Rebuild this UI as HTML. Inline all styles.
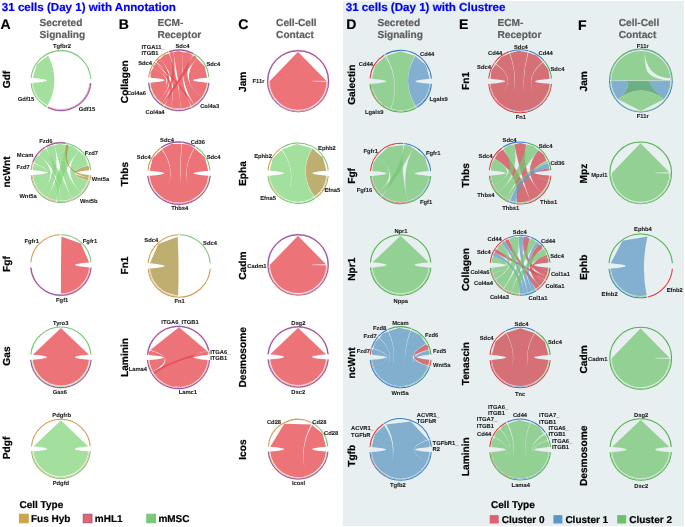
<!DOCTYPE html>
<html><head><meta charset="utf-8"><title>Chord diagrams</title>
<style>html,body{margin:0;padding:0;background:#fff;}body{width:685px;height:527px;overflow:hidden;font-family:"Liberation Sans",sans-serif;}svg{display:block;will-change:transform;}</style>
</head><body>
<svg width="685" height="527" viewBox="0 0 685 527" font-family="Liberation Sans, sans-serif" text-rendering="geometricPrecision"><rect x="0" y="0" width="685" height="527" fill="#fff"/>
<rect x="343" y="1" width="341" height="525" fill="#E8EFF1"/>
<text x="1.8" y="10.9" font-size="11.6" text-anchor="start" font-weight="bold" fill="#0000ff" stroke="#0000ff" stroke-width="0.2">31 cells (Day 1) with Annotation</text>
<text x="345.7" y="10.9" font-size="11.6" text-anchor="start" font-weight="bold" fill="#0000ff" stroke="#0000ff" stroke-width="0.2">31 cells (Day 1) with Clustree</text>
<text x="0.5" y="28.7" font-size="14" text-anchor="start" font-weight="bold" fill="#000" stroke="#000" stroke-width="0.2">A</text>
<text x="39.6" y="25.5" font-size="10.15" text-anchor="start" font-weight="bold" fill="#5E5E5E" stroke="#5E5E5E" stroke-width="0.2">Secreted</text>
<text x="39.6" y="37.5" font-size="10.15" text-anchor="start" font-weight="bold" fill="#5E5E5E" stroke="#5E5E5E" stroke-width="0.2">Signaling</text>
<text x="118.8" y="28.7" font-size="14" text-anchor="start" font-weight="bold" fill="#000" stroke="#000" stroke-width="0.2">B</text>
<text x="157.4" y="25.5" font-size="10.15" text-anchor="start" font-weight="bold" fill="#5E5E5E" stroke="#5E5E5E" stroke-width="0.2">ECM-</text>
<text x="157.4" y="37.5" font-size="10.15" text-anchor="start" font-weight="bold" fill="#5E5E5E" stroke="#5E5E5E" stroke-width="0.2">Receptor</text>
<text x="238.2" y="28.7" font-size="14" text-anchor="start" font-weight="bold" fill="#000" stroke="#000" stroke-width="0.2">C</text>
<text x="276.1" y="25.5" font-size="10.15" text-anchor="start" font-weight="bold" fill="#5E5E5E" stroke="#5E5E5E" stroke-width="0.2">Cell-Cell</text>
<text x="276.1" y="37.5" font-size="10.15" text-anchor="start" font-weight="bold" fill="#5E5E5E" stroke="#5E5E5E" stroke-width="0.2">Contact</text>
<text x="346.2" y="28.7" font-size="14" text-anchor="start" font-weight="bold" fill="#000" stroke="#000" stroke-width="0.2">D</text>
<text x="377.4" y="25.5" font-size="10.15" text-anchor="start" font-weight="bold" fill="#5E5E5E" stroke="#5E5E5E" stroke-width="0.2">Secreted</text>
<text x="377.4" y="37.5" font-size="10.15" text-anchor="start" font-weight="bold" fill="#5E5E5E" stroke="#5E5E5E" stroke-width="0.2">Signaling</text>
<text x="459" y="28.7" font-size="14" text-anchor="start" font-weight="bold" fill="#000" stroke="#000" stroke-width="0.2">E</text>
<text x="497.5" y="25.5" font-size="10.15" text-anchor="start" font-weight="bold" fill="#5E5E5E" stroke="#5E5E5E" stroke-width="0.2">ECM-</text>
<text x="497.5" y="37.5" font-size="10.15" text-anchor="start" font-weight="bold" fill="#5E5E5E" stroke="#5E5E5E" stroke-width="0.2">Receptor</text>
<text x="578" y="29.6" font-size="14" text-anchor="start" font-weight="bold" fill="#000" stroke="#000" stroke-width="0.2">F</text>
<text x="618.7" y="25.5" font-size="10.15" text-anchor="start" font-weight="bold" fill="#5E5E5E" stroke="#5E5E5E" stroke-width="0.2">Cell-Cell</text>
<text x="618.7" y="37.5" font-size="10.15" text-anchor="start" font-weight="bold" fill="#5E5E5E" stroke="#5E5E5E" stroke-width="0.2">Contact</text>
<path d="M31.11 77.94 A29.9 29.9 0 0 1 90.76 78.99" stroke="#76C973" stroke-width="1.05" fill="none"/>
<path d="M46.86 106.95 A29.9 29.9 0 0 1 31.11 83.16" stroke="#76C973" stroke-width="1.05" fill="none"/>
<path d="M90.69 83.16 A29.9 29.9 0 0 1 47.79 107.42" stroke="#E8A4BC" stroke-width="1.75" fill="none"/>
<path d="M90.69 83.16 A29.9 29.9 0 0 1 47.79 107.42" stroke="#7448A4" stroke-width="0.85" fill="none"/>
<path d="M47.29 106.16 A29 29 0 0 1 32.01 83.08" stroke="#B8E6B2" stroke-width="0.95" fill="none"/>
<path d="M89.79 83.08 A29 29 0 0 1 48.19 106.62" stroke="#F0A6AA" stroke-width="0.95" fill="none"/>
<path d="M47.71 105.36 A28.1 28.1 0 0 1 32.91 83 Q60.9 80.55 32.91 78.1 L36.86 64.33 L48.14 55.51 Q60.9 80.55 47.71 105.36 Z" fill="#84D47C" fill-opacity="0.75"/>
<text x="62" y="48.3" font-size="5.8" text-anchor="middle" font-weight="bold" fill="#1a1a1a" stroke="#1a1a1a" stroke-width="0.08">Tgfbr2</text>
<text x="34.3" y="101.3" font-size="5.8" text-anchor="end" font-weight="bold" fill="#1a1a1a" stroke="#1a1a1a" stroke-width="0.08">Gdf15</text>
<text x="78.7" y="110.5" font-size="5.8" text-anchor="start" font-weight="bold" fill="#1a1a1a" stroke="#1a1a1a" stroke-width="0.08">Gdf15</text>
<text x="9.9" y="79.5" font-size="10.2" text-anchor="middle" font-weight="bold" fill="#000" stroke="#000" stroke-width="0.2" transform="rotate(-90 9.9 79.5)">Gdf</text>
<path d="M31.11 170.04 A29.9 29.9 0 0 1 32.63 162.92" stroke="#D49A4C" stroke-width="1.05" fill="none"/>
<path d="M32.8 162.42 A29.9 29.9 0 0 1 45.06 147.29" stroke="#E8A4BC" stroke-width="1.75" fill="none"/>
<path d="M32.8 162.42 A29.9 29.9 0 0 1 45.06 147.29" stroke="#7448A4" stroke-width="0.85" fill="none"/>
<path d="M45.5 147.02 A29.9 29.9 0 0 1 65.58 143.12" stroke="#E8A4BC" stroke-width="1.75" fill="none"/>
<path d="M45.5 147.02 A29.9 29.9 0 0 1 65.58 143.12" stroke="#7448A4" stroke-width="0.85" fill="none"/>
<path d="M66.09 143.2 A29.9 29.9 0 0 1 90.69 170.04" stroke="#76C973" stroke-width="1.05" fill="none"/>
<path d="M90.69 175.26 A29.9 29.9 0 0 1 89.64 180.89" stroke="#D49A4C" stroke-width="1.05" fill="none"/>
<path d="M89.49 181.39 A29.9 29.9 0 0 1 56.74 202.26" stroke="#76C973" stroke-width="1.05" fill="none"/>
<path d="M56.22 202.18 A29.9 29.9 0 0 1 31.11 175.26" stroke="#76C973" stroke-width="1.05" fill="none"/>
<path d="M89.79 175.18 A29 29 0 0 1 88.78 180.64" stroke="#B8E6B2" stroke-width="0.95" fill="none"/>
<path d="M88.63 181.13 A29 29 0 0 1 56.86 201.37" stroke="#F0A6AA" stroke-width="0.95" fill="none"/>
<path d="M56.36 201.29 A29 29 0 0 1 32.01 175.18" stroke="#F0A6AA" stroke-width="0.95" fill="none"/>
<path d="M60.38 200.75 A28.1 28.1 0 0 1 56.99 200.48 Q60.9 172.65 33.86 165.01 L33.22 163.99 L34.33 163.5 Q60.9 172.65 60.38 200.75 Z" fill="#84D47C" fill-opacity="0.75"/>
<path d="M71.47 198.69 A28.1 28.1 0 0 1 60.38 200.75 Q60.9 172.65 39.06 154.97 L41.68 150.93 L46.01 148.82 Q60.9 172.65 71.47 198.69 Z" fill="#84D47C" fill-opacity="0.75"/>
<path d="M80.85 192.44 A28.1 28.1 0 0 1 71.47 198.69 Q60.9 172.65 54.47 145.29 L59.83 143.67 L65.3 144.9 Q60.9 172.65 80.85 192.44 Z" fill="#84D47C" fill-opacity="0.75"/>
<path d="M87.77 180.87 A28.1 28.1 0 0 1 80.85 192.44 Q60.9 172.65 78.62 150.84 L85.1 156.66 L87.91 164.9 Q60.9 172.65 87.77 180.87 Z" fill="#84D47C" fill-opacity="0.75"/>
<path d="M35.43 184.53 A28.1 28.1 0 0 1 32.91 175.1 Q60.9 172.65 32.91 170.2 L32.38 167.42 L33.86 165.01 Q60.9 172.65 35.43 184.53 Z" fill="#84D47C" fill-opacity="0.75"/>
<path d="M41.03 192.52 A28.1 28.1 0 0 1 35.43 184.53 Q60.9 172.65 34.49 163.04 L35.66 158.37 L39.06 154.97 Q60.9 172.65 41.03 192.52 Z" fill="#84D47C" fill-opacity="0.75"/>
<path d="M47.28 197.23 A28.1 28.1 0 0 1 41.03 192.52 Q60.9 172.65 46.43 148.56 L49.98 145.78 L54.47 145.29 Q60.9 172.65 47.28 197.23 Z" fill="#84D47C" fill-opacity="0.75"/>
<path d="M56.5 200.4 A28.1 28.1 0 0 1 47.28 197.23 Q60.9 172.65 65.78 144.98 L72.95 146.27 L78.62 150.84 Q60.9 172.65 56.5 200.4 Z" fill="#84D47C" fill-opacity="0.75"/>
<path d="M88.89 175.1 A28.1 28.1 0 0 1 88.57 177.53 Q60.9 172.65 65.78 144.98 L67.42 144.39 L68.65 145.64 Q60.9 172.65 88.89 175.1 Z" fill="#A89440" fill-opacity="0.75"/>
<path d="M88.57 177.53 A28.1 28.1 0 0 1 87.91 180.4 Q60.9 172.65 88.04 165.38 L89.46 167.61 L88.89 170.2 Q60.9 172.65 88.57 177.53 Z" fill="#A89440" fill-opacity="0.75"/>
<text x="45.8" y="143.3" font-size="5.8" text-anchor="middle" font-weight="bold" fill="#1a1a1a" stroke="#1a1a1a" stroke-width="0.08">Fzd6</text>
<text x="84.8" y="154.5" font-size="5.8" text-anchor="start" font-weight="bold" fill="#1a1a1a" stroke="#1a1a1a" stroke-width="0.08">Fzd7</text>
<text x="33.3" y="157" font-size="5.8" text-anchor="end" font-weight="bold" fill="#1a1a1a" stroke="#1a1a1a" stroke-width="0.08">Mcam</text>
<text x="29.8" y="168.5" font-size="5.8" text-anchor="end" font-weight="bold" fill="#1a1a1a" stroke="#1a1a1a" stroke-width="0.08">Fzd7</text>
<text x="91.8" y="180.8" font-size="5.8" text-anchor="start" font-weight="bold" fill="#1a1a1a" stroke="#1a1a1a" stroke-width="0.08">Wnt5a</text>
<text x="36.8" y="197.6" font-size="5.8" text-anchor="end" font-weight="bold" fill="#1a1a1a" stroke="#1a1a1a" stroke-width="0.08">Wnt5a</text>
<text x="79.9" y="202.9" font-size="5.8" text-anchor="start" font-weight="bold" fill="#1a1a1a" stroke="#1a1a1a" stroke-width="0.08">Wnt5b</text>
<text x="9.9" y="171.9" font-size="10.2" text-anchor="middle" font-weight="bold" fill="#000" stroke="#000" stroke-width="0.2" transform="rotate(-90 9.9 171.9)">ncWnt</text>
<path d="M30.81 262.37 A30.2 30.2 0 0 1 60.37 234.8" stroke="#D49A4C" stroke-width="1.05" fill="none"/>
<path d="M61.43 234.8 A30.2 30.2 0 0 1 90.99 262.37" stroke="#76C973" stroke-width="1.05" fill="none"/>
<path d="M90.99 267.63 A30.2 30.2 0 0 1 30.81 267.63" stroke="#E8A4BC" stroke-width="1.75" fill="none"/>
<path d="M90.99 267.63 A30.2 30.2 0 0 1 30.81 267.63" stroke="#7448A4" stroke-width="0.85" fill="none"/>
<path d="M90.09 267.55 A29.3 29.3 0 0 1 60.9 294.3" stroke="#F0A6AA" stroke-width="0.95" fill="none"/>
<path d="M89.19 267.48 A28.4 28.4 0 0 1 60.9 293.4 Q60.9 265 61.4 236.6 L80.88 243.57 L89.19 262.52 Q60.9 265 89.19 267.48 Z" fill="#E6464C" fill-opacity="0.75"/>
<text x="38.9" y="242.9" font-size="5.8" text-anchor="end" font-weight="bold" fill="#1a1a1a" stroke="#1a1a1a" stroke-width="0.08">Fgfr1</text>
<text x="82.8" y="242.9" font-size="5.8" text-anchor="start" font-weight="bold" fill="#1a1a1a" stroke="#1a1a1a" stroke-width="0.08">Fgfr1</text>
<text x="62.2" y="301.9" font-size="5.8" text-anchor="middle" font-weight="bold" fill="#1a1a1a" stroke="#1a1a1a" stroke-width="0.08">Fgf1</text>
<text x="9.9" y="264" font-size="10.2" text-anchor="middle" font-weight="bold" fill="#000" stroke="#000" stroke-width="0.2" transform="rotate(-90 9.9 264)">Fgf</text>
<path d="M30.81 354.67 A30.2 30.2 0 0 1 90.99 354.67" stroke="#76C973" stroke-width="1.05" fill="none"/>
<path d="M90.99 359.93 A30.2 30.2 0 0 1 30.81 359.93" stroke="#E8A4BC" stroke-width="1.75" fill="none"/>
<path d="M90.99 359.93 A30.2 30.2 0 0 1 30.81 359.93" stroke="#7448A4" stroke-width="0.85" fill="none"/>
<path d="M90.09 359.85 A29.3 29.3 0 0 1 31.71 359.85" stroke="#B8E6B2" stroke-width="0.95" fill="none"/>
<path d="M89.19 359.78 A28.4 28.4 0 0 1 32.61 359.78 Q60.9 357.3 32.61 354.82 L60.9 328 L89.19 354.82 Q60.9 357.3 89.19 359.78 Z" fill="#EC7479" stroke="#fff" stroke-width="0.35" stroke-opacity="0.6"/>
<text x="60.7" y="324.9" font-size="5.8" text-anchor="middle" font-weight="bold" fill="#1a1a1a" stroke="#1a1a1a" stroke-width="0.08">Tyro3</text>
<text x="59.9" y="393.9" font-size="5.8" text-anchor="middle" font-weight="bold" fill="#1a1a1a" stroke="#1a1a1a" stroke-width="0.08">Gas6</text>
<text x="9.9" y="356" font-size="10.2" text-anchor="middle" font-weight="bold" fill="#000" stroke="#000" stroke-width="0.2" transform="rotate(-90 9.9 356)">Gas</text>
<path d="M31.51 446.28 A29.5 29.5 0 0 1 90.29 446.28" stroke="#D49A4C" stroke-width="1.05" fill="none"/>
<path d="M90.29 451.42 A29.5 29.5 0 0 1 31.51 451.42" stroke="#76C973" stroke-width="1.05" fill="none"/>
<path d="M89.39 451.34 A28.6 28.6 0 0 1 32.41 451.34" stroke="#EAC096" stroke-width="0.95" fill="none"/>
<path d="M88.49 451.26 A27.7 27.7 0 0 1 33.31 451.26 Q60.9 448.85 33.31 446.44 L60.9 420.25 L88.49 446.44 Q60.9 448.85 88.49 451.26 Z" fill="#A3DF9D" stroke="#fff" stroke-width="0.35" stroke-opacity="0.6"/>
<text x="61.7" y="416.6" font-size="5.8" text-anchor="middle" font-weight="bold" fill="#1a1a1a" stroke="#1a1a1a" stroke-width="0.08">Pdgfrb</text>
<text x="60.9" y="485.3" font-size="5.8" text-anchor="middle" font-weight="bold" fill="#1a1a1a" stroke="#1a1a1a" stroke-width="0.08">Pdgfd</text>
<text x="9.9" y="448" font-size="10.2" text-anchor="middle" font-weight="bold" fill="#000" stroke="#000" stroke-width="0.2" transform="rotate(-90 9.9 448)">Pdgf</text>
<path d="M148.71 77.57 A30.2 30.2 0 0 1 155 61.61" stroke="#D49A4C" stroke-width="1.05" fill="none"/>
<path d="M155.33 61.19 A30.2 30.2 0 0 1 168.47 51.82" stroke="#D49A4C" stroke-width="1.05" fill="none"/>
<path d="M168.97 51.65 A30.2 30.2 0 0 1 193.44 53.79" stroke="#E8A4BC" stroke-width="1.75" fill="none"/>
<path d="M168.97 51.65 A30.2 30.2 0 0 1 193.44 53.79" stroke="#7448A4" stroke-width="0.85" fill="none"/>
<path d="M193.9 54.05 A30.2 30.2 0 0 1 208.89 77.57" stroke="#76C973" stroke-width="1.05" fill="none"/>
<path d="M208.89 82.83 A30.2 30.2 0 0 1 192.04 107.34" stroke="#E8A4BC" stroke-width="1.75" fill="none"/>
<path d="M208.89 82.83 A30.2 30.2 0 0 1 192.04 107.34" stroke="#7448A4" stroke-width="0.85" fill="none"/>
<path d="M191.56 107.57 A30.2 30.2 0 0 1 164.16 106.61" stroke="#E8A4BC" stroke-width="1.75" fill="none"/>
<path d="M191.56 107.57 A30.2 30.2 0 0 1 164.16 106.61" stroke="#7448A4" stroke-width="0.85" fill="none"/>
<path d="M163.7 106.35 A30.2 30.2 0 0 1 148.71 82.83" stroke="#E8A4BC" stroke-width="1.75" fill="none"/>
<path d="M163.7 106.35 A30.2 30.2 0 0 1 148.71 82.83" stroke="#7448A4" stroke-width="0.85" fill="none"/>
<path d="M207.99 82.75 A29.3 29.3 0 0 1 191.64 106.53" stroke="#B8E6B2" stroke-width="0.95" fill="none"/>
<path d="M191.18 106.75 A29.3 29.3 0 0 1 164.6 105.83" stroke="#EAC096" stroke-width="0.95" fill="none"/>
<path d="M164.15 105.57 A29.3 29.3 0 0 1 149.61 82.75" stroke="#B8E6B2" stroke-width="0.95" fill="none"/>
<path d="M193.98 104.2 A28.4 28.4 0 0 1 191.25 105.73 Q178.8 80.2 155.22 64.37 L155.08 63 L156.42 62.72 Q178.8 80.2 193.98 104.2 Z" fill="#E6464C" fill-opacity="0.75"/>
<path d="M201.6 97.14 A28.4 28.4 0 0 1 193.98 104.2 Q178.8 80.2 183.24 52.15 L188.34 52.5 L192.57 55.36 Q178.8 80.2 201.6 97.14 Z" fill="#E6464C" fill-opacity="0.75"/>
<path d="M207.09 82.68 A28.4 28.4 0 0 1 201.6 97.14 Q178.8 80.2 196.74 58.18 L204.69 66.48 L207.09 77.72 Q178.8 80.2 207.09 82.68 Z" fill="#E6464C" fill-opacity="0.75"/>
<path d="M170.72 107.43 A28.4 28.4 0 0 1 165.03 105.04 Q178.8 80.2 153.19 67.92 L153.36 65.66 L155.22 64.37 Q178.8 80.2 170.72 107.43 Z" fill="#E6464C" fill-opacity="0.75"/>
<path d="M180.9 108.52 A28.4 28.4 0 0 1 170.72 107.43 Q178.8 80.2 160.29 58.66 L164 54.91 L169.09 53.51 Q178.8 80.2 180.9 108.52 Z" fill="#E6464C" fill-opacity="0.75"/>
<path d="M190.8 105.94 A28.4 28.4 0 0 1 180.9 108.52 Q178.8 80.2 173.38 52.32 L178.29 50.9 L183.24 52.15 Q178.8 80.2 190.8 105.94 Z" fill="#E6464C" fill-opacity="0.75"/>
<path d="M155.7 96.71 A28.4 28.4 0 0 1 150.51 82.68 Q178.8 80.2 150.51 77.72 L150.54 72.46 L153.19 67.92 Q178.8 80.2 155.7 96.71 Z" fill="#E6464C" fill-opacity="0.75"/>
<path d="M158.98 100.54 A28.4 28.4 0 0 1 155.7 96.71 Q178.8 80.2 156.73 62.33 L157.78 59.79 L160.29 58.66 Q178.8 80.2 158.98 100.54 Z" fill="#E6464C" fill-opacity="0.75"/>
<path d="M162.06 103.14 A28.4 28.4 0 0 1 158.98 100.54 Q178.8 80.2 169.55 53.35 L171.22 51.9 L173.38 52.32 Q178.8 80.2 162.06 103.14 Z" fill="#E6464C" fill-opacity="0.75"/>
<path d="M164.6 104.8 A28.4 28.4 0 0 1 162.06 103.14 Q178.8 80.2 193 55.6 L195.43 56.08 L196.74 58.18 Q178.8 80.2 164.6 104.8 Z" fill="#E6464C" fill-opacity="0.75"/>
<text x="141.5" y="49.1" font-size="5.8" text-anchor="start" font-weight="bold" fill="#1a1a1a" stroke="#1a1a1a" stroke-width="0.08">ITGA11_</text>
<text x="141.5" y="55.3" font-size="5.8" text-anchor="start" font-weight="bold" fill="#1a1a1a" stroke="#1a1a1a" stroke-width="0.08">ITGB1</text>
<text x="175.5" y="47.9" font-size="5.8" text-anchor="start" font-weight="bold" fill="#1a1a1a" stroke="#1a1a1a" stroke-width="0.08">Sdc4</text>
<text x="152" y="65" font-size="5.8" text-anchor="end" font-weight="bold" fill="#1a1a1a" stroke="#1a1a1a" stroke-width="0.08">Sdc4</text>
<text x="206.4" y="65.9" font-size="5.8" text-anchor="start" font-weight="bold" fill="#1a1a1a" stroke="#1a1a1a" stroke-width="0.08">Sdc4</text>
<text x="145.9" y="95.2" font-size="5.8" text-anchor="end" font-weight="bold" fill="#1a1a1a" stroke="#1a1a1a" stroke-width="0.08">Col4a6</text>
<text x="155.1" y="114" font-size="5.8" text-anchor="middle" font-weight="bold" fill="#1a1a1a" stroke="#1a1a1a" stroke-width="0.08">Col4a4</text>
<text x="200.2" y="108" font-size="5.8" text-anchor="start" font-weight="bold" fill="#1a1a1a" stroke="#1a1a1a" stroke-width="0.08">Col4a3</text>
<text x="127.7" y="81.7" font-size="10.2" text-anchor="middle" font-weight="bold" fill="#000" stroke="#000" stroke-width="0.2" transform="rotate(-90 127.7 81.7)">Collagen</text>
<path d="M147.92 170.48 A31.2 31.2 0 0 1 160.66 147.96" stroke="#D49A4C" stroke-width="1.05" fill="none"/>
<path d="M161.1 147.64 A31.2 31.2 0 0 1 181.72 142.12" stroke="#E8A4BC" stroke-width="1.75" fill="none"/>
<path d="M161.1 147.64 A31.2 31.2 0 0 1 181.72 142.12" stroke="#7448A4" stroke-width="0.85" fill="none"/>
<path d="M182.26 142.17 A31.2 31.2 0 0 1 195.07 146.46" stroke="#E8A4BC" stroke-width="1.75" fill="none"/>
<path d="M182.26 142.17 A31.2 31.2 0 0 1 195.07 146.46" stroke="#7448A4" stroke-width="0.85" fill="none"/>
<path d="M195.53 146.74 A31.2 31.2 0 0 1 210.08 170.48" stroke="#76C973" stroke-width="1.05" fill="none"/>
<path d="M210.08 175.92 A31.2 31.2 0 0 1 147.92 175.92" stroke="#E8A4BC" stroke-width="1.75" fill="none"/>
<path d="M210.08 175.92 A31.2 31.2 0 0 1 147.92 175.92" stroke="#7448A4" stroke-width="0.85" fill="none"/>
<path d="M209.18 175.84 A30.3 30.3 0 0 1 194.15 199.44" stroke="#B8E6B2" stroke-width="0.95" fill="none"/>
<path d="M193.69 199.7 A30.3 30.3 0 0 1 161.62 198.02" stroke="#F0A6AA" stroke-width="0.95" fill="none"/>
<path d="M161.19 197.71 A30.3 30.3 0 0 1 148.82 175.84" stroke="#EAC096" stroke-width="0.95" fill="none"/>
<defs><linearGradient id="bg1" gradientUnits="userSpaceOnUse" x1="0" y1="171.2" x2="0" y2="185.2"><stop offset="0" stop-color="#fff" stop-opacity="0"/><stop offset="1" stop-color="#fff" stop-opacity="1"/></linearGradient><mask id="bm1" maskUnits="userSpaceOnUse" x="0" y="0" width="685" height="527"><rect x="0" y="0" width="685" height="527" fill="url(#bg1)"/></mask></defs>
<path d="M207.94 176.24 A29.1 29.1 0 0 1 150.06 176.24 Z" fill="#EC7479" mask="url(#bm1)"/>
<path d="M161.72 196.99 A29.4 29.4 0 0 1 149.71 175.76 Q179 173.2 149.71 170.64 L152.63 158.28 L161.72 149.41 Q179 173.2 161.72 196.99 Z" fill="#EC7479"/>
<path d="M181.05 202.53 A29.4 29.4 0 0 1 162.14 197.28 Q179 173.2 162.14 149.12 L171.16 143.93 L181.56 143.91 Q179 173.2 181.05 202.53 Z" fill="#EC7479"/>
<path d="M193.25 198.91 A29.4 29.4 0 0 1 181.56 202.49 Q179 173.2 182.07 143.96 L188.61 144.47 L194.14 148 Q179 173.2 193.25 198.91 Z" fill="#EC7479"/>
<path d="M208.29 175.76 A29.4 29.4 0 0 1 193.7 198.66 Q179 173.2 194.58 148.27 L204.83 157.37 L208.29 170.64 Q179 173.2 208.29 175.76 Z" fill="#EC7479"/>
<text x="167" y="142.3" font-size="5.8" text-anchor="middle" font-weight="bold" fill="#1a1a1a" stroke="#1a1a1a" stroke-width="0.08">Sdc4</text>
<text x="197.8" y="144" font-size="5.8" text-anchor="middle" font-weight="bold" fill="#1a1a1a" stroke="#1a1a1a" stroke-width="0.08">Cd36</text>
<text x="150.7" y="158.7" font-size="5.8" text-anchor="end" font-weight="bold" fill="#1a1a1a" stroke="#1a1a1a" stroke-width="0.08">Sdc4</text>
<text x="206.7" y="158.7" font-size="5.8" text-anchor="start" font-weight="bold" fill="#1a1a1a" stroke="#1a1a1a" stroke-width="0.08">Sdc4</text>
<text x="179.8" y="210" font-size="5.8" text-anchor="middle" font-weight="bold" fill="#1a1a1a" stroke="#1a1a1a" stroke-width="0.08">Thbs4</text>
<text x="127.7" y="174" font-size="10.2" text-anchor="middle" font-weight="bold" fill="#000" stroke="#000" stroke-width="0.2" transform="rotate(-90 127.7 174)">Thbs</text>
<path d="M148.14 263.01 A31.2 31.2 0 0 1 178.66 234.8" stroke="#D49A4C" stroke-width="1.05" fill="none"/>
<path d="M179.74 234.8 A31.2 31.2 0 0 1 210.28 263.28" stroke="#76C973" stroke-width="1.05" fill="none"/>
<path d="M210.28 268.72 A31.2 31.2 0 0 1 148.12 268.72" stroke="#D49A4C" stroke-width="1.05" fill="none"/>
<path d="M178.14 296.28 A30.3 30.3 0 0 1 149.02 268.64" stroke="#EAC096" stroke-width="0.95" fill="none"/>
<path d="M178.17 295.38 A29.4 29.4 0 0 1 149.91 268.56 Q179.2 266 149.94 263.18 L158.25 244.11 L177.66 236.64 Q179.2 266 178.17 295.38 Z" fill="#A89440" fill-opacity="0.75"/>
<text x="151.2" y="242" font-size="5.8" text-anchor="middle" font-weight="bold" fill="#1a1a1a" stroke="#1a1a1a" stroke-width="0.08">Sdc4</text>
<text x="210" y="245" font-size="5.8" text-anchor="middle" font-weight="bold" fill="#1a1a1a" stroke="#1a1a1a" stroke-width="0.08">Sdc4</text>
<text x="179.7" y="303.4" font-size="5.8" text-anchor="middle" font-weight="bold" fill="#1a1a1a" stroke="#1a1a1a" stroke-width="0.08">Fn1</text>
<text x="127.7" y="265.5" font-size="10.2" text-anchor="middle" font-weight="bold" fill="#000" stroke="#000" stroke-width="0.2" transform="rotate(-90 127.7 265.5)">Fn1</text>
<path d="M147.52 354.79 A31.1 31.1 0 0 1 208.8 350.5" stroke="#E8A4BC" stroke-width="1.75" fill="none"/>
<path d="M147.52 354.79 A31.1 31.1 0 0 1 208.8 350.5" stroke="#7448A4" stroke-width="0.85" fill="none"/>
<path d="M208.92 351.03 A31.1 31.1 0 0 1 209.48 354.79" stroke="#76C973" stroke-width="1.05" fill="none"/>
<path d="M209.48 360.21 A31.1 31.1 0 0 1 152.13 373.98" stroke="#E8A4BC" stroke-width="1.75" fill="none"/>
<path d="M209.48 360.21 A31.1 31.1 0 0 1 152.13 373.98" stroke="#7448A4" stroke-width="0.85" fill="none"/>
<path d="M151.84 373.52 A31.1 31.1 0 0 1 147.52 360.21" stroke="#E8A4BC" stroke-width="1.75" fill="none"/>
<path d="M151.84 373.52 A31.1 31.1 0 0 1 147.52 360.21" stroke="#7448A4" stroke-width="0.85" fill="none"/>
<path d="M208.59 360.13 A30.2 30.2 0 0 1 152.89 373.5" stroke="#F0A6AA" stroke-width="0.95" fill="none"/>
<path d="M152.61 373.05 A30.2 30.2 0 0 1 151.59 371.21" stroke="#B8E6B2" stroke-width="0.95" fill="none"/>
<path d="M151.59 371.21 A30.2 30.2 0 0 1 148.41 360.13" stroke="#F0A6AA" stroke-width="0.95" fill="none"/>
<path d="M207.69 360.05 A29.3 29.3 0 0 1 153.65 373.03 Q178.5 357.5 150.2 349.92 L179.03 327.3 L207.05 350.91 Q178.5 357.5 207.69 360.05 Z" fill="#E6464C" fill-opacity="0.75"/>
<path d="M152.63 371.26 A29.3 29.3 0 0 1 149.31 360.05 Q178.5 357.5 149.31 354.95 L148.71 352.52 L150.07 350.41 Q178.5 357.5 152.63 371.26 Z" fill="#E6464C" fill-opacity="0.75"/>
<path d="M154.21 373.88 A29.3 29.3 0 0 1 152.63 371.26 Q178.5 357.5 207.05 350.91 L208.33 352.78 L207.69 354.95 Q178.5 357.5 154.21 373.88 Z" fill="#E6464C" fill-opacity="0.75"/>
<text x="180" y="324.3" font-size="5.8" text-anchor="middle" font-weight="bold" fill="#1a1a1a" stroke="#1a1a1a" stroke-width="0.08">ITGA6_ITGB1</text>
<text x="147" y="370.6" font-size="5.8" text-anchor="end" font-weight="bold" fill="#1a1a1a" stroke="#1a1a1a" stroke-width="0.08">Lama4</text>
<text x="187.9" y="394.2" font-size="5.8" text-anchor="middle" font-weight="bold" fill="#1a1a1a" stroke="#1a1a1a" stroke-width="0.08">Lamc1</text>
<text x="210.2" y="354.3" font-size="5.8" text-anchor="start" font-weight="bold" fill="#1a1a1a" stroke="#1a1a1a" stroke-width="0.08">ITGA6_</text>
<text x="210.2" y="359.6" font-size="5.8" text-anchor="start" font-weight="bold" fill="#1a1a1a" stroke="#1a1a1a" stroke-width="0.08">ITGB1</text>
<text x="127.7" y="357.5" font-size="10.2" text-anchor="middle" font-weight="bold" fill="#000" stroke="#000" stroke-width="0.2" transform="rotate(-90 127.7 357.5)">Laminin</text>
<path d="M328.55 81.2 A30.45 30.45 0 0 1 267.65 81.2 A30.45 30.45 0 0 1 328.55 81.2" stroke="#E8A4BC" stroke-width="1.75" fill="none"/>
<path d="M328.55 81.2 A30.45 30.45 0 0 1 267.65 81.2 A30.45 30.45 0 0 1 328.55 81.2" stroke="#7448A4" stroke-width="0.85" fill="none"/>
<path d="M327.65 81.72 A29.55 29.55 0 0 1 268.55 81.72" stroke="#F0A6AA" stroke-width="0.95" fill="none"/>
<path d="M326.75 81.5 A28.65 28.65 0 0 1 269.45 81.2 L269.45 81.2 L297.95 51.65 L326.75 80.9 Q298.1 81.2 326.75 81.5 Z" fill="#EC7479" stroke="#fff" stroke-width="0.35" stroke-opacity="0.6"/>
<text x="264.5" y="83.4" font-size="5.8" text-anchor="end" font-weight="bold" fill="#1a1a1a" stroke="#1a1a1a" stroke-width="0.08">F11r</text>
<text x="246.3" y="81.8" font-size="10.2" text-anchor="middle" font-weight="bold" fill="#000" stroke="#000" stroke-width="0.2" transform="rotate(-90 246.3 81.8)">Jam</text>
<path d="M267.97 170.56 A30.25 30.25 0 0 1 280.75 148.42" stroke="#D49A4C" stroke-width="1.05" fill="none"/>
<path d="M281.18 148.12 A30.25 30.25 0 0 1 328.23 170.56" stroke="#76C973" stroke-width="1.05" fill="none"/>
<path d="M328.23 175.84 A30.25 30.25 0 0 1 315.45 197.98" stroke="#D49A4C" stroke-width="1.05" fill="none"/>
<path d="M315.02 198.28 A30.25 30.25 0 0 1 267.97 175.84" stroke="#76C973" stroke-width="1.05" fill="none"/>
<path d="M327.34 175.76 A29.35 29.35 0 0 1 314.93 197.24" stroke="#B8E6B2" stroke-width="0.95" fill="none"/>
<path d="M314.51 197.53 A29.35 29.35 0 0 1 286.16 200.01" stroke="#B8E6B2" stroke-width="0.95" fill="none"/>
<path d="M285.7 199.8 A29.35 29.35 0 0 1 268.86 175.76" stroke="#EAC096" stroke-width="0.95" fill="none"/>
<defs><linearGradient id="bg2" gradientUnits="userSpaceOnUse" x1="0" y1="171.2" x2="0" y2="185.2"><stop offset="0" stop-color="#fff" stop-opacity="0"/><stop offset="1" stop-color="#fff" stop-opacity="1"/></linearGradient><mask id="bm2" maskUnits="userSpaceOnUse" x="0" y="0" width="685" height="527"><rect x="0" y="0" width="685" height="527" fill="url(#bg2)"/></mask></defs>
<path d="M312.18 197.58 A28.15 28.15 0 0 1 270.1 176.14 Z" fill="#A3DF9D" mask="url(#bm2)"/>
<path d="M326.44 175.68 A28.45 28.45 0 0 1 314.42 196.5 Q298.1 173.2 312.33 148.56 L322.85 157.43 L326.44 170.72 Q298.1 173.2 326.44 175.68 Z" fill="#A89440" fill-opacity="0.75"/>
<path d="M286.08 198.98 A28.45 28.45 0 0 1 269.76 175.68 Q298.1 173.2 269.76 170.72 L272.68 158.52 L281.78 149.9 Q298.1 173.2 286.08 198.98 Z" fill="#A3DF9D"/>
<path d="M314.01 196.79 A28.45 28.45 0 0 1 286.53 199.19 Q298.1 173.2 282.19 149.61 L296.82 143.88 L311.89 148.32 Q298.1 173.2 314.01 196.79 Z" fill="#A3DF9D"/>
<text x="271.9" y="158" font-size="5.8" text-anchor="end" font-weight="bold" fill="#1a1a1a" stroke="#1a1a1a" stroke-width="0.08">Ephb2</text>
<text x="318.1" y="150" font-size="5.8" text-anchor="start" font-weight="bold" fill="#1a1a1a" stroke="#1a1a1a" stroke-width="0.08">Ephb2</text>
<text x="276" y="200" font-size="5.8" text-anchor="end" font-weight="bold" fill="#1a1a1a" stroke="#1a1a1a" stroke-width="0.08">Efna5</text>
<text x="324.4" y="192.4" font-size="5.8" text-anchor="start" font-weight="bold" fill="#1a1a1a" stroke="#1a1a1a" stroke-width="0.08">Efna5</text>
<text x="246.3" y="173.5" font-size="10.2" text-anchor="middle" font-weight="bold" fill="#000" stroke="#000" stroke-width="0.2" transform="rotate(-90 246.3 173.5)">Epha</text>
<path d="M328.2 264.85 A30.1 30.1 0 0 1 268 264.85 A30.1 30.1 0 0 1 328.2 264.85" stroke="#E8A4BC" stroke-width="1.75" fill="none"/>
<path d="M328.2 264.85 A30.1 30.1 0 0 1 268 264.85 A30.1 30.1 0 0 1 328.2 264.85" stroke="#7448A4" stroke-width="0.85" fill="none"/>
<path d="M327.3 265.36 A29.2 29.2 0 0 1 268.9 265.36" stroke="#F0A6AA" stroke-width="0.95" fill="none"/>
<path d="M326.4 265.15 A28.3 28.3 0 0 1 269.8 264.85 L269.8 264.85 L297.95 235.65 L326.4 264.55 Q298.1 264.85 326.4 265.15 Z" fill="#EC7479" stroke="#fff" stroke-width="0.35" stroke-opacity="0.6"/>
<text x="266.6" y="267.7" font-size="5.8" text-anchor="end" font-weight="bold" fill="#1a1a1a" stroke="#1a1a1a" stroke-width="0.08">Cadm1</text>
<text x="246.3" y="265.7" font-size="10.2" text-anchor="middle" font-weight="bold" fill="#000" stroke="#000" stroke-width="0.2" transform="rotate(-90 246.3 265.7)">Cadm</text>
<path d="M268.11 354.28 A30.1 30.1 0 0 1 328.09 354.28" stroke="#E8A4BC" stroke-width="1.75" fill="none"/>
<path d="M268.11 354.28 A30.1 30.1 0 0 1 328.09 354.28" stroke="#7448A4" stroke-width="0.85" fill="none"/>
<path d="M328.09 359.52 A30.1 30.1 0 0 1 268.11 359.52" stroke="#E8A4BC" stroke-width="1.75" fill="none"/>
<path d="M328.09 359.52 A30.1 30.1 0 0 1 268.11 359.52" stroke="#7448A4" stroke-width="0.85" fill="none"/>
<path d="M327.19 359.44 A29.2 29.2 0 0 1 269.01 359.44" stroke="#F0A6AA" stroke-width="0.95" fill="none"/>
<path d="M326.29 359.37 A28.3 28.3 0 0 1 269.91 359.37 Q298.1 356.9 269.91 354.43 L298.1 327.7 L326.29 354.43 Q298.1 356.9 326.29 359.37 Z" fill="#EC7479" stroke="#fff" stroke-width="0.35" stroke-opacity="0.6"/>
<text x="298.3" y="324.5" font-size="5.8" text-anchor="middle" font-weight="bold" fill="#1a1a1a" stroke="#1a1a1a" stroke-width="0.08">Dsg2</text>
<text x="298.3" y="393.9" font-size="5.8" text-anchor="middle" font-weight="bold" fill="#1a1a1a" stroke="#1a1a1a" stroke-width="0.08">Dsc2</text>
<text x="246.3" y="357.3" font-size="10.2" text-anchor="middle" font-weight="bold" fill="#000" stroke="#000" stroke-width="0.2" transform="rotate(-90 246.3 357.3)">Desmosome</text>
<path d="M268.41 446.55 A29.8 29.8 0 0 1 311.63 422.6" stroke="#D49A4C" stroke-width="1.05" fill="none"/>
<path d="M311.86 422.72 A29.8 29.8 0 0 1 312.77 423.21" stroke="#E8A4BC" stroke-width="1.75" fill="none"/>
<path d="M311.86 422.72 A29.8 29.8 0 0 1 312.77 423.21" stroke="#7448A4" stroke-width="0.85" fill="none"/>
<path d="M313 423.34 A29.8 29.8 0 0 1 327.79 446.55" stroke="#76C973" stroke-width="1.05" fill="none"/>
<path d="M327.79 451.75 A29.8 29.8 0 0 1 268.41 451.75" stroke="#E8A4BC" stroke-width="1.75" fill="none"/>
<path d="M327.79 451.75 A29.8 29.8 0 0 1 268.41 451.75" stroke="#7448A4" stroke-width="0.85" fill="none"/>
<path d="M326.89 451.67 A28.9 28.9 0 0 1 312.55 474.18" stroke="#B8E6B2" stroke-width="0.95" fill="none"/>
<path d="M312.11 474.43 A28.9 28.9 0 0 1 269.31 451.67" stroke="#EAC096" stroke-width="0.95" fill="none"/>
<defs><linearGradient id="bg3" gradientUnits="userSpaceOnUse" x1="0" y1="453.15" x2="0" y2="469.15"><stop offset="0" stop-color="#fff" stop-opacity="0"/><stop offset="1" stop-color="#fff" stop-opacity="1"/></linearGradient><mask id="bm3" maskUnits="userSpaceOnUse" x="0" y="0" width="685" height="527"><rect x="0" y="0" width="685" height="527" fill="url(#bg3)"/></mask></defs>
<path d="M325.65 452.05 A27.7 27.7 0 0 1 270.55 452.05 Z" fill="#EC7479" mask="url(#bm3)"/>
<path d="M306.29 475.93 A28 28 0 0 1 270.21 451.59 Q298.1 449.15 270.21 446.71 L284.31 423.75 L311.25 424.43 Q298.1 449.15 306.29 475.93 Z" fill="#EC7479"/>
<path d="M325.99 451.59 A28 28 0 0 1 306.75 475.78 Q298.1 449.15 312.1 424.9 L322.47 433.62 L325.99 446.71 Q298.1 449.15 325.99 451.59 Z" fill="#EC7479"/>
<text x="274" y="424.4" font-size="5.8" text-anchor="middle" font-weight="bold" fill="#1a1a1a" stroke="#1a1a1a" stroke-width="0.08">Cd28</text>
<text x="312.3" y="423.7" font-size="5.8" text-anchor="start" font-weight="bold" fill="#1a1a1a" stroke="#1a1a1a" stroke-width="0.08">Cd28</text>
<text x="324" y="434.7" font-size="5.8" text-anchor="start" font-weight="bold" fill="#1a1a1a" stroke="#1a1a1a" stroke-width="0.08">Cd28</text>
<text x="298.6" y="485" font-size="5.8" text-anchor="middle" font-weight="bold" fill="#1a1a1a" stroke="#1a1a1a" stroke-width="0.08">Icosl</text>
<text x="246.3" y="449.5" font-size="10.2" text-anchor="middle" font-weight="bold" fill="#000" stroke="#000" stroke-width="0.2" transform="rotate(-90 246.3 449.5)">Icos</text>
<path d="M369.97 78.51 A30.85 30.85 0 0 1 384.35 55.04" stroke="#E0393E" stroke-width="1.05" fill="none"/>
<path d="M385.27 54.48 A30.85 30.85 0 0 1 431.43 78.51" stroke="#3B7DC4" stroke-width="1.05" fill="none"/>
<path d="M431.43 83.89 A30.85 30.85 0 0 1 416.59 107.64" stroke="#3B7DC4" stroke-width="1.05" fill="none"/>
<path d="M416.12 107.92 A30.85 30.85 0 0 1 369.97 83.89" stroke="#4FAF4A" stroke-width="1.05" fill="none"/>
<path d="M430.54 83.81 A29.95 29.95 0 0 1 416.13 106.87" stroke="#8DB6DA" stroke-width="0.95" fill="none"/>
<path d="M415.68 107.14 A29.95 29.95 0 0 1 385.73 107.14" stroke="#9AD49A" stroke-width="0.95" fill="none"/>
<path d="M385.27 106.87 A29.95 29.95 0 0 1 370.86 83.81" stroke="#E58A90" stroke-width="0.95" fill="none"/>
<path d="M429.64 83.73 A29.05 29.05 0 0 1 415.66 106.1 Q400.7 81.2 415.22 56.04 L425.96 65.11 L429.64 78.67 Q400.7 81.2 429.64 83.73 Z" fill="#619AC4" fill-opacity="0.75"/>
<path d="M390.76 108.5 A29.05 29.05 0 0 1 371.76 83.73 Q400.7 81.2 371.76 78.67 L375.16 65.55 L385.31 56.56 Q400.7 81.2 390.76 108.5 Z" fill="#77C674" fill-opacity="0.75"/>
<path d="M415.22 106.36 A29.05 29.05 0 0 1 391.24 108.67 Q400.7 81.2 386.17 56.04 L400.44 51.25 L414.78 55.79 Q400.7 81.2 415.22 106.36 Z" fill="#77C674" fill-opacity="0.75"/>
<text x="373" y="65.9" font-size="5.8" text-anchor="end" font-weight="bold" fill="#1a1a1a" stroke="#1a1a1a" stroke-width="0.08">Cd44</text>
<text x="420" y="55.9" font-size="5.8" text-anchor="start" font-weight="bold" fill="#1a1a1a" stroke="#1a1a1a" stroke-width="0.08">Cd44</text>
<text x="429.4" y="100.6" font-size="5.8" text-anchor="start" font-weight="bold" fill="#1a1a1a" stroke="#1a1a1a" stroke-width="0.08">Lgals9</text>
<text x="374.2" y="113.7" font-size="5.8" text-anchor="middle" font-weight="bold" fill="#1a1a1a" stroke="#1a1a1a" stroke-width="0.08">Lgals9</text>
<text x="355.2" y="84.7" font-size="10.2" text-anchor="middle" font-weight="bold" fill="#000" stroke="#000" stroke-width="0.2" transform="rotate(-90 355.2 84.7)">Galectin</text>
<path d="M370.51 170.87 A30.2 30.2 0 0 1 403.23 143.41" stroke="#E0393E" stroke-width="1.05" fill="none"/>
<path d="M404.28 143.53 A30.2 30.2 0 0 1 430.69 170.87" stroke="#3B7DC4" stroke-width="1.05" fill="none"/>
<path d="M430.69 176.13 A30.2 30.2 0 0 1 381.59 196.97" stroke="#4FAF4A" stroke-width="1.05" fill="none"/>
<path d="M381.19 196.63 A30.2 30.2 0 0 1 370.51 176.13" stroke="#4FAF4A" stroke-width="1.05" fill="none"/>
<path d="M429.79 176.05 A29.3 29.3 0 0 1 408.18 201.8" stroke="#8DB6DA" stroke-width="0.95" fill="none"/>
<path d="M408.18 201.8 A29.3 29.3 0 0 1 382.16 196.27" stroke="#E58A90" stroke-width="0.95" fill="none"/>
<path d="M381.77 195.95 A29.3 29.3 0 0 1 378.15 192.33" stroke="#8DB6DA" stroke-width="0.95" fill="none"/>
<path d="M378.15 192.33 A29.3 29.3 0 0 1 371.41 176.05" stroke="#E58A90" stroke-width="0.95" fill="none"/>
<path d="M378.84 191.76 A28.4 28.4 0 0 1 372.31 175.98 Q400.6 173.5 372.31 171.02 L373.07 163.48 L377.34 157.21 Q400.6 173.5 378.84 191.76 Z" fill="#77C674" fill-opacity="0.75"/>
<path d="M382.34 195.26 A28.4 28.4 0 0 1 378.84 191.76 Q400.6 173.5 404.06 145.31 L408.92 145.41 L413.05 147.97 Q400.6 173.5 382.34 195.26 Z" fill="#77C674" fill-opacity="0.75"/>
<path d="M407.95 200.93 A28.4 28.4 0 0 1 382.73 195.57 Q400.6 173.5 377.34 157.21 L388.22 146.95 L403.08 145.21 Q400.6 173.5 407.95 200.93 Z" fill="#77C674" fill-opacity="0.75"/>
<path d="M428.89 175.98 A28.4 28.4 0 0 1 407.95 200.93 Q400.6 173.5 413.05 147.97 L424.75 156.9 L428.89 171.02 Q400.6 173.5 428.89 175.98 Z" fill="#77C674" fill-opacity="0.75"/>
<text x="377.9" y="152.7" font-size="5.8" text-anchor="end" font-weight="bold" fill="#1a1a1a" stroke="#1a1a1a" stroke-width="0.08">Fgfr1</text>
<text x="426" y="155.1" font-size="5.8" text-anchor="start" font-weight="bold" fill="#1a1a1a" stroke="#1a1a1a" stroke-width="0.08">Fgfr1</text>
<text x="372.2" y="191.9" font-size="5.8" text-anchor="end" font-weight="bold" fill="#1a1a1a" stroke="#1a1a1a" stroke-width="0.08">Fgf16</text>
<text x="420" y="203.8" font-size="5.8" text-anchor="start" font-weight="bold" fill="#1a1a1a" stroke="#1a1a1a" stroke-width="0.08">Fgf1</text>
<text x="355.2" y="175.9" font-size="10.2" text-anchor="middle" font-weight="bold" fill="#000" stroke="#000" stroke-width="0.2" transform="rotate(-90 355.2 175.9)">Fgf</text>
<path d="M370.42 262.36 A30.3 30.3 0 0 1 430.78 262.36" stroke="#4FAF4A" stroke-width="1.05" fill="none"/>
<path d="M430.78 267.64 A30.3 30.3 0 0 1 370.42 267.64" stroke="#4FAF4A" stroke-width="1.05" fill="none"/>
<path d="M429.89 267.56 A29.4 29.4 0 0 1 371.31 267.56" stroke="#9AD49A" stroke-width="0.95" fill="none"/>
<path d="M428.99 267.48 A28.5 28.5 0 0 1 372.21 267.48 Q400.6 265 372.21 262.52 L400.6 235.6 L428.99 262.52 Q400.6 265 428.99 267.48 Z" fill="#93D093" stroke="#fff" stroke-width="0.35" stroke-opacity="0.6"/>
<text x="401" y="233" font-size="5.8" text-anchor="middle" font-weight="bold" fill="#1a1a1a" stroke="#1a1a1a" stroke-width="0.08">Npr1</text>
<text x="400.8" y="303.4" font-size="5.8" text-anchor="middle" font-weight="bold" fill="#1a1a1a" stroke="#1a1a1a" stroke-width="0.08">Nppa</text>
<text x="355.2" y="269.2" font-size="10.2" text-anchor="middle" font-weight="bold" fill="#000" stroke="#000" stroke-width="0.2" transform="rotate(-90 355.2 269.2)">Npr1</text>
<path d="M370.22 354.54 A30.5 30.5 0 0 1 371.43 348.28" stroke="#E0393E" stroke-width="1.05" fill="none"/>
<path d="M371.59 347.77 A30.5 30.5 0 0 1 377.93 336.79" stroke="#3B7DC4" stroke-width="1.05" fill="none"/>
<path d="M378.29 336.4 A30.5 30.5 0 0 1 387.23 329.79" stroke="#3B7DC4" stroke-width="1.05" fill="none"/>
<path d="M387.71 329.56 A30.5 30.5 0 0 1 411.03 328.54" stroke="#4FAF4A" stroke-width="1.05" fill="none"/>
<path d="M411.53 328.73 A30.5 30.5 0 0 1 427.78 343.35" stroke="#4FAF4A" stroke-width="1.05" fill="none"/>
<path d="M428.01 343.83 A30.5 30.5 0 0 1 430.98 354.54" stroke="#4FAF4A" stroke-width="1.05" fill="none"/>
<path d="M430.98 359.86 A30.5 30.5 0 0 1 429.77 366.12" stroke="#E0393E" stroke-width="1.05" fill="none"/>
<path d="M429.61 366.63 A30.5 30.5 0 0 1 370.22 359.86" stroke="#3B7DC4" stroke-width="1.05" fill="none"/>
<path d="M430.09 359.78 A29.6 29.6 0 0 1 428.91 365.85" stroke="#9AD49A" stroke-width="0.95" fill="none"/>
<path d="M428.75 366.35 A29.6 29.6 0 0 1 405.74 386.35" stroke="#9AD49A" stroke-width="0.95" fill="none"/>
<path d="M405.74 386.35 A29.6 29.6 0 0 1 372.79 367.32" stroke="#8DB6DA" stroke-width="0.95" fill="none"/>
<path d="M372.79 367.32 A29.6 29.6 0 0 1 371.11 359.78" stroke="#E58A90" stroke-width="0.95" fill="none"/>
<defs><linearGradient id="bg4" gradientUnits="userSpaceOnUse" x1="0" y1="355.2" x2="0" y2="369.2"><stop offset="0" stop-color="#fff" stop-opacity="0"/><stop offset="1" stop-color="#fff" stop-opacity="1"/></linearGradient><mask id="bm4" maskUnits="userSpaceOnUse" x="0" y="0" width="685" height="527"><rect x="0" y="0" width="685" height="527" fill="url(#bg4)"/></mask></defs>
<path d="M427.45 366.45 A28.4 28.4 0 0 1 372.36 360.17 Z" fill="#83AFCF" mask="url(#bm4)"/>
<path d="M429.19 359.7 A28.7 28.7 0 0 1 428.05 365.59 Q400.6 357.2 426.17 344.17 L428.23 346.59 L428.32 349.77 Q400.6 357.2 429.19 359.7 Z" fill="#CF464E" fill-opacity="0.75"/>
<path d="M373.63 367.02 A28.7 28.7 0 0 1 372.01 359.7 Q400.6 357.2 372.01 354.7 L371.54 351.55 L373.15 348.81 Q400.6 357.2 373.63 367.02 Z" fill="#83AFCF"/>
<path d="M378.61 375.65 A28.7 28.7 0 0 1 373.63 367.02 Q400.6 357.2 373.3 348.33 L374.97 342.4 L379.27 338 Q400.6 357.2 378.61 375.65 Z" fill="#83AFCF"/>
<path d="M386.25 382.05 A28.7 28.7 0 0 1 378.61 375.65 Q400.6 357.2 379.61 337.63 L382.99 333.41 L388.02 331.4 Q400.6 357.2 386.25 382.05 Z" fill="#83AFCF"/>
<path d="M408.03 384.92 A28.7 28.7 0 0 1 386.25 382.05 Q400.6 357.2 388.47 331.19 L399.31 327.63 L410.42 330.23 Q400.6 357.2 408.03 384.92 Z" fill="#83AFCF"/>
<path d="M424.11 373.66 A28.7 28.7 0 0 1 408.03 384.92 Q400.6 357.2 410.89 330.41 L420.21 335.03 L425.94 343.73 Q400.6 357.2 424.11 373.66 Z" fill="#83AFCF"/>
<path d="M427.9 366.07 A28.7 28.7 0 0 1 424.11 373.66 Q400.6 357.2 428.45 350.26 L429.79 352.31 L429.19 354.7 Q400.6 357.2 427.9 366.07 Z" fill="#83AFCF"/>
<text x="379.6" y="329.7" font-size="5.8" text-anchor="middle" font-weight="bold" fill="#1a1a1a" stroke="#1a1a1a" stroke-width="0.08">Fzd8</text>
<text x="400.4" y="325.4" font-size="5.8" text-anchor="middle" font-weight="bold" fill="#1a1a1a" stroke="#1a1a1a" stroke-width="0.08">Mcam</text>
<text x="376.7" y="337.7" font-size="5.8" text-anchor="end" font-weight="bold" fill="#1a1a1a" stroke="#1a1a1a" stroke-width="0.08">Fzd7</text>
<text x="425" y="336.8" font-size="5.8" text-anchor="start" font-weight="bold" fill="#1a1a1a" stroke="#1a1a1a" stroke-width="0.08">Fzd6</text>
<text x="433" y="353.3" font-size="5.8" text-anchor="start" font-weight="bold" fill="#1a1a1a" stroke="#1a1a1a" stroke-width="0.08">Fzd5</text>
<text x="370" y="353.3" font-size="5.8" text-anchor="end" font-weight="bold" fill="#1a1a1a" stroke="#1a1a1a" stroke-width="0.08">Fzd7</text>
<text x="433" y="366.6" font-size="5.8" text-anchor="start" font-weight="bold" fill="#1a1a1a" stroke="#1a1a1a" stroke-width="0.08">Wnt5a</text>
<text x="400.1" y="394.6" font-size="5.8" text-anchor="middle" font-weight="bold" fill="#1a1a1a" stroke="#1a1a1a" stroke-width="0.08">Wnt5a</text>
<text x="355.2" y="363" font-size="10.2" text-anchor="middle" font-weight="bold" fill="#000" stroke="#000" stroke-width="0.2" transform="rotate(-90 355.2 363)">ncWnt</text>
<path d="M369.92 446.82 A30.8 30.8 0 0 1 383.38 423.97" stroke="#E0393E" stroke-width="1.05" fill="none"/>
<path d="M383.83 423.67 A30.8 30.8 0 0 1 429.54 438.97" stroke="#3B7DC4" stroke-width="1.05" fill="none"/>
<path d="M429.72 439.47 A30.8 30.8 0 0 1 431.28 446.82" stroke="#3B7DC4" stroke-width="1.05" fill="none"/>
<path d="M431.28 452.18 A30.8 30.8 0 0 1 369.92 452.18" stroke="#3B7DC4" stroke-width="1.05" fill="none"/>
<path d="M430.39 452.11 A29.9 29.9 0 0 1 385.65 475.39" stroke="#8DB6DA" stroke-width="0.95" fill="none"/>
<path d="M385.65 475.39 A29.9 29.9 0 0 1 370.81 452.11" stroke="#E58A90" stroke-width="0.95" fill="none"/>
<defs><linearGradient id="bg5" gradientUnits="userSpaceOnUse" x1="0" y1="447.5" x2="0" y2="461.5"><stop offset="0" stop-color="#fff" stop-opacity="0"/><stop offset="1" stop-color="#fff" stop-opacity="1"/></linearGradient><mask id="bm5" maskUnits="userSpaceOnUse" x="0" y="0" width="685" height="527"><rect x="0" y="0" width="685" height="527" fill="url(#bg5)"/></mask></defs>
<path d="M429.14 452.5 A28.7 28.7 0 0 1 372.06 452.5 Z" fill="#83AFCF" mask="url(#bm5)"/>
<path d="M386.1 474.61 A29 29 0 0 1 371.71 452.03 Q400.6 449.5 371.71 446.97 L374.84 434.32 L384.38 425.46 Q400.6 449.5 386.1 474.61 Z" fill="#83AFCF"/>
<path d="M426.88 461.76 A29 29 0 0 1 386.54 474.86 Q400.6 449.5 386.1 424.39 L410.83 421.4 L427.85 439.58 Q400.6 449.5 426.88 461.76 Z" fill="#83AFCF"/>
<path d="M429.49 452.03 A29 29 0 0 1 427.09 461.3 Q400.6 449.5 428.02 440.06 L429.85 443.28 L429.49 446.97 Q400.6 449.5 429.49 452.03 Z" fill="#83AFCF"/>
<text x="351.1" y="430.4" font-size="5.8" text-anchor="start" font-weight="bold" fill="#1a1a1a" stroke="#1a1a1a" stroke-width="0.08">ACVR1_</text>
<text x="351.1" y="436.5" font-size="5.8" text-anchor="start" font-weight="bold" fill="#1a1a1a" stroke="#1a1a1a" stroke-width="0.08">TGFbR</text>
<text x="416.8" y="416.9" font-size="5.8" text-anchor="start" font-weight="bold" fill="#1a1a1a" stroke="#1a1a1a" stroke-width="0.08">ACVR1_</text>
<text x="416.8" y="422.5" font-size="5.8" text-anchor="start" font-weight="bold" fill="#1a1a1a" stroke="#1a1a1a" stroke-width="0.08">TGFbR</text>
<text x="432.6" y="445.3" font-size="5.8" text-anchor="start" font-weight="bold" fill="#1a1a1a" stroke="#1a1a1a" stroke-width="0.08">TGFbR1_</text>
<text x="432.6" y="450.9" font-size="5.8" text-anchor="start" font-weight="bold" fill="#1a1a1a" stroke="#1a1a1a" stroke-width="0.08">R2</text>
<text x="397.8" y="487" font-size="5.8" text-anchor="middle" font-weight="bold" fill="#1a1a1a" stroke="#1a1a1a" stroke-width="0.08">Tgfb2</text>
<text x="355.2" y="455.8" font-size="10.2" text-anchor="middle" font-weight="bold" fill="#000" stroke="#000" stroke-width="0.2" transform="rotate(-90 355.2 455.8)">Tgfb</text>
<path d="M488.72 78.5 A31.5 31.5 0 0 1 494.3 63.18" stroke="#E0393E" stroke-width="1.05" fill="none"/>
<path d="M494.62 62.73 A31.5 31.5 0 0 1 508.81 51.84" stroke="#E0393E" stroke-width="1.05" fill="none"/>
<path d="M509.33 51.65 A31.5 31.5 0 0 1 528.25 50.82" stroke="#3B7DC4" stroke-width="1.05" fill="none"/>
<path d="M528.78 50.97 A31.5 31.5 0 0 1 543.87 60.58" stroke="#3B7DC4" stroke-width="1.05" fill="none"/>
<path d="M544.23 61 A31.5 31.5 0 0 1 551.48 78.5" stroke="#4FAF4A" stroke-width="1.05" fill="none"/>
<path d="M551.48 84 A31.5 31.5 0 0 1 488.72 84" stroke="#E0393E" stroke-width="1.05" fill="none"/>
<path d="M550.58 83.92 A30.6 30.6 0 0 1 542.11 102.51" stroke="#9AD49A" stroke-width="0.95" fill="none"/>
<path d="M541.74 102.89 A30.6 30.6 0 0 1 509.13 109.82" stroke="#8DB6DA" stroke-width="0.95" fill="none"/>
<path d="M508.64 109.62 A30.6 30.6 0 0 1 489.62 83.92" stroke="#E58A90" stroke-width="0.95" fill="none"/>
<defs><linearGradient id="bg6" gradientUnits="userSpaceOnUse" x1="0" y1="79.25" x2="0" y2="93.25"><stop offset="0" stop-color="#fff" stop-opacity="0"/><stop offset="1" stop-color="#fff" stop-opacity="1"/></linearGradient><mask id="bm6" maskUnits="userSpaceOnUse" x="0" y="0" width="685" height="527"><rect x="0" y="0" width="685" height="527" fill="url(#bg6)"/></mask></defs>
<path d="M549.34 84.32 A29.4 29.4 0 0 1 490.86 84.32 Z" fill="#D57077" mask="url(#bm6)"/>
<path d="M495.77 98.29 A29.7 29.7 0 0 1 490.51 83.84 Q520.1 81.25 490.51 78.66 L491.35 70.78 L495.77 64.21 Q520.1 81.25 495.77 98.29 Z" fill="#D57077"/>
<path d="M508.97 108.79 A29.7 29.7 0 0 1 496.07 98.71 Q520.1 81.25 496.07 63.79 L501.47 56.97 L509.46 53.52 Q520.1 81.25 508.97 108.79 Z" fill="#D57077"/>
<path d="M526.27 110.3 A29.7 29.7 0 0 1 509.46 108.98 Q520.1 81.25 509.94 53.34 L518.77 50.68 L527.79 52.56 Q520.1 81.25 526.27 110.3 Z" fill="#D57077"/>
<path d="M541.1 102.25 A29.7 29.7 0 0 1 526.78 110.19 Q520.1 81.25 528.29 52.7 L536.54 55.44 L542.51 61.77 Q520.1 81.25 541.1 102.25 Z" fill="#D57077"/>
<path d="M549.69 83.84 A29.7 29.7 0 0 1 541.46 101.88 Q520.1 81.25 542.85 62.16 L548.37 69.54 L549.69 78.66 Q520.1 81.25 549.69 83.84 Z" fill="#D57077"/>
<text x="490.9" y="69.4" font-size="5.8" text-anchor="end" font-weight="bold" fill="#1a1a1a" stroke="#1a1a1a" stroke-width="0.08">Sdc4</text>
<text x="495.1" y="55.4" font-size="5.8" text-anchor="middle" font-weight="bold" fill="#1a1a1a" stroke="#1a1a1a" stroke-width="0.08">Cd44</text>
<text x="520.9" y="49.3" font-size="5.8" text-anchor="middle" font-weight="bold" fill="#1a1a1a" stroke="#1a1a1a" stroke-width="0.08">Sdc4</text>
<text x="545.6" y="55.4" font-size="5.8" text-anchor="middle" font-weight="bold" fill="#1a1a1a" stroke="#1a1a1a" stroke-width="0.08">Cd44</text>
<text x="550.5" y="70.6" font-size="5.8" text-anchor="start" font-weight="bold" fill="#1a1a1a" stroke="#1a1a1a" stroke-width="0.08">Sdc4</text>
<text x="520.8" y="118.5" font-size="5.8" text-anchor="middle" font-weight="bold" fill="#1a1a1a" stroke="#1a1a1a" stroke-width="0.08">Fn1</text>
<text x="469.1" y="81" font-size="10.2" text-anchor="middle" font-weight="bold" fill="#000" stroke="#000" stroke-width="0.2" transform="rotate(-90 469.1 81)">Fn1</text>
<path d="M489.27 170.3 A30.95 30.95 0 0 1 501.91 147.96" stroke="#E0393E" stroke-width="1.05" fill="none"/>
<path d="M502.35 147.65 A30.95 30.95 0 0 1 526.53 142.73" stroke="#3B7DC4" stroke-width="1.05" fill="none"/>
<path d="M527.06 142.84 A30.95 30.95 0 0 1 548.15 159.92" stroke="#4FAF4A" stroke-width="1.05" fill="none"/>
<path d="M548.37 160.41 A30.95 30.95 0 0 1 550.93 170.3" stroke="#4FAF4A" stroke-width="1.05" fill="none"/>
<path d="M550.93 175.7 A30.95 30.95 0 0 1 516.33 203.72" stroke="#E0393E" stroke-width="1.05" fill="none"/>
<path d="M515.79 203.65 A30.95 30.95 0 0 1 509.51 202.08" stroke="#3B7DC4" stroke-width="1.05" fill="none"/>
<path d="M509.01 201.89 A30.95 30.95 0 0 1 489.27 175.7" stroke="#4FAF4A" stroke-width="1.05" fill="none"/>
<path d="M550.04 175.62 A30.05 30.05 0 0 1 516.44 202.83" stroke="#9AD49A" stroke-width="0.95" fill="none"/>
<path d="M515.92 202.76 A30.05 30.05 0 0 1 509.82 201.24" stroke="#9AD49A" stroke-width="0.95" fill="none"/>
<path d="M509.33 201.05 A30.05 30.05 0 0 1 490.16 175.62" stroke="#E58A90" stroke-width="0.95" fill="none"/>
<path d="M530.1 200.38 A29.15 29.15 0 0 1 516.55 201.93 Q520.1 173 494.73 158.65 L497.68 152.99 L502.97 149.42 Q520.1 173 530.1 200.38 Z" fill="#CF464E" fill-opacity="0.75"/>
<path d="M541.46 192.84 A29.15 29.15 0 0 1 530.1 200.38 Q520.1 173 514.29 144.44 L520.23 142.95 L526.16 144.49 Q520.1 173 541.46 192.84 Z" fill="#CF464E" fill-opacity="0.75"/>
<path d="M548.15 180.95 A29.15 29.15 0 0 1 541.46 192.84 Q520.1 173 538.44 150.35 L543.78 154.5 L546.52 160.68 Q520.1 173 548.15 180.95 Z" fill="#CF464E" fill-opacity="0.75"/>
<path d="M549.14 175.54 A29.15 29.15 0 0 1 548.15 180.95 Q520.1 173 548.87 168.33 L549.92 169.28 L549.14 170.46 Q520.1 173 549.14 175.54 Z" fill="#CF464E" fill-opacity="0.75"/>
<path d="M516.04 201.87 A29.15 29.15 0 0 1 510.13 200.39 Q520.1 173 547.53 163.14 L549.19 165.48 L548.87 168.33 Q520.1 173 516.04 201.87 Z" fill="#619AC4" fill-opacity="0.75"/>
<path d="M493.43 184.77 A29.15 29.15 0 0 1 491.06 175.54 Q520.1 173 491.06 170.46 L491.4 164.09 L494.73 158.65 Q520.1 173 493.43 184.77 Z" fill="#77C674" fill-opacity="0.75"/>
<path d="M498.66 192.75 A29.15 29.15 0 0 1 493.43 184.77 Q520.1 173 503.38 149.12 L508.24 145.39 L514.29 144.44 Q520.1 173 498.66 192.75 Z" fill="#77C674" fill-opacity="0.75"/>
<path d="M506.18 198.61 A29.15 29.15 0 0 1 498.66 192.75 Q520.1 173 526.66 144.6 L533.27 145.99 L538.44 150.35 Q520.1 173 506.18 198.61 Z" fill="#77C674" fill-opacity="0.75"/>
<path d="M509.65 200.21 A29.15 29.15 0 0 1 506.18 198.61 Q520.1 173 546.73 161.14 L547.98 161.8 L547.53 163.14 Q520.1 173 509.65 200.21 Z" fill="#77C674" fill-opacity="0.75"/>
<text x="509.5" y="141.9" font-size="5.8" text-anchor="middle" font-weight="bold" fill="#1a1a1a" stroke="#1a1a1a" stroke-width="0.08">Sdc4</text>
<text x="538.7" y="147.9" font-size="5.8" text-anchor="start" font-weight="bold" fill="#1a1a1a" stroke="#1a1a1a" stroke-width="0.08">Sdc4</text>
<text x="492.4" y="158.1" font-size="5.8" text-anchor="end" font-weight="bold" fill="#1a1a1a" stroke="#1a1a1a" stroke-width="0.08">Sdc4</text>
<text x="550.4" y="165" font-size="5.8" text-anchor="start" font-weight="bold" fill="#1a1a1a" stroke="#1a1a1a" stroke-width="0.08">Cd36</text>
<text x="494.4" y="197.2" font-size="5.8" text-anchor="end" font-weight="bold" fill="#1a1a1a" stroke="#1a1a1a" stroke-width="0.08">Thbs4</text>
<text x="510.7" y="209.8" font-size="5.8" text-anchor="middle" font-weight="bold" fill="#1a1a1a" stroke="#1a1a1a" stroke-width="0.08">Thbs1</text>
<text x="540.1" y="203.7" font-size="5.8" text-anchor="start" font-weight="bold" fill="#1a1a1a" stroke="#1a1a1a" stroke-width="0.08">Thbs1</text>
<text x="469.1" y="175.3" font-size="10.2" text-anchor="middle" font-weight="bold" fill="#000" stroke="#000" stroke-width="0.2" transform="rotate(-90 469.1 175.3)">Thbs</text>
<path d="M490.21 262.69 A30 30 0 0 1 495.53 248.09" stroke="#E0393E" stroke-width="1.05" fill="none"/>
<path d="M495.83 247.67 A30 30 0 0 1 507.9 237.89" stroke="#E0393E" stroke-width="1.05" fill="none"/>
<path d="M508.38 237.68 A30 30 0 0 1 530.36 237.11" stroke="#3B7DC4" stroke-width="1.05" fill="none"/>
<path d="M530.85 237.29 A30 30 0 0 1 544.06 247.25" stroke="#3B7DC4" stroke-width="1.05" fill="none"/>
<path d="M544.37 247.67 A30 30 0 0 1 549.99 262.69" stroke="#4FAF4A" stroke-width="1.05" fill="none"/>
<path d="M549.99 267.91 A30 30 0 0 1 546.08 280.3" stroke="#E0393E" stroke-width="1.05" fill="none"/>
<path d="M545.82 280.75 A30 30 0 0 1 536.88 290.17" stroke="#E0393E" stroke-width="1.05" fill="none"/>
<path d="M536.44 290.46 A30 30 0 0 1 519.58 295.3" stroke="#3B7DC4" stroke-width="1.05" fill="none"/>
<path d="M519.05 295.28 A30 30 0 0 1 502.89 289.87" stroke="#4FAF4A" stroke-width="1.05" fill="none"/>
<path d="M502.47 289.57 A30 30 0 0 1 494.12 280.3" stroke="#4FAF4A" stroke-width="1.05" fill="none"/>
<path d="M493.86 279.84 A30 30 0 0 1 490.21 267.91" stroke="#4FAF4A" stroke-width="1.05" fill="none"/>
<path d="M549.09 267.84 A29.1 29.1 0 0 1 536.37 289.42" stroke="#9AD49A" stroke-width="0.95" fill="none"/>
<path d="M535.95 289.71 A29.1 29.1 0 0 1 519.59 294.4" stroke="#9AD49A" stroke-width="0.95" fill="none"/>
<path d="M519.08 294.38 A29.1 29.1 0 0 1 491.11 267.84" stroke="#E58A90" stroke-width="0.95" fill="none"/>
<path d="M546.02 276.4 A28.2 28.2 0 0 1 544.52 279.4 Q520.1 265.3 494.93 252.58 L495.13 250.35 L497 249.13 Q520.1 265.3 546.02 276.4 Z" fill="#CF464E" fill-opacity="0.75"/>
<path d="M547.45 272.17 A28.2 28.2 0 0 1 546.02 276.4 Q520.1 265.3 523.42 237.3 L526.84 236.99 L529.74 238.8 Q520.1 265.3 547.45 272.17 Z" fill="#CF464E" fill-opacity="0.75"/>
<path d="M548.19 267.76 A28.2 28.2 0 0 1 547.45 272.17 Q520.1 265.3 547.1 257.14 L548.67 259.79 L548.19 262.84 Q520.1 265.3 548.19 267.76 Z" fill="#CF464E" fill-opacity="0.75"/>
<path d="M539.27 285.98 A28.2 28.2 0 0 1 535.87 288.68 Q520.1 265.3 504.92 241.54 L506.31 239.67 L508.63 239.54 Q520.1 265.3 539.27 285.98 Z" fill="#CF464E" fill-opacity="0.75"/>
<path d="M543.08 281.64 A28.2 28.2 0 0 1 539.27 285.98 Q520.1 265.3 538.92 244.3 L541.53 245.62 L542.62 248.33 Q520.1 265.3 543.08 281.64 Z" fill="#CF464E" fill-opacity="0.75"/>
<path d="M544.27 279.82 A28.2 28.2 0 0 1 543.08 281.64 Q520.1 265.3 546.38 255.08 L547.61 255.81 L547.1 257.14 Q520.1 265.3 544.27 279.82 Z" fill="#CF464E" fill-opacity="0.75"/>
<path d="M524.16 293.21 A28.2 28.2 0 0 1 519.61 293.5 Q520.1 265.3 493.38 256.29 L493.26 254.06 L494.93 252.58 Q520.1 265.3 524.16 293.21 Z" fill="#619AC4" fill-opacity="0.75"/>
<path d="M527.87 292.41 A28.2 28.2 0 0 1 524.16 293.21 Q520.1 265.3 502.08 243.61 L502.94 241.8 L504.92 241.54 Q520.1 265.3 527.87 292.41 Z" fill="#619AC4" fill-opacity="0.75"/>
<path d="M532.14 290.8 A28.2 28.2 0 0 1 527.87 292.41 Q520.1 265.3 518.55 237.14 L521.02 236.21 L523.42 237.3 Q520.1 265.3 532.14 290.8 Z" fill="#619AC4" fill-opacity="0.75"/>
<path d="M535.46 288.95 A28.2 28.2 0 0 1 532.14 290.8 Q520.1 265.3 536.24 242.18 L538.17 242.49 L538.92 244.3 Q520.1 265.3 535.46 288.95 Z" fill="#619AC4" fill-opacity="0.75"/>
<path d="M511.15 292.04 A28.2 28.2 0 0 1 503.93 288.4 Q520.1 265.3 530.21 238.97 L533.74 239.6 L536.24 242.18 Q520.1 265.3 511.15 292.04 Z" fill="#77C674" fill-opacity="0.75"/>
<path d="M519.12 293.48 A28.2 28.2 0 0 1 511.15 292.04 Q520.1 265.3 542.91 248.72 L545.64 251.36 L546.38 255.08 Q520.1 265.3 519.12 293.48 Z" fill="#77C674" fill-opacity="0.75"/>
<path d="M503.52 288.11 A28.2 28.2 0 0 1 495.68 279.4 Q520.1 265.3 509.08 239.34 L513.52 236.95 L518.55 237.14 Q520.1 265.3 503.52 288.11 Z" fill="#77C674" fill-opacity="0.75"/>
<path d="M493.13 273.54 A28.2 28.2 0 0 1 492.01 267.76 Q520.1 265.3 492.01 262.84 L491.62 259.34 L493.38 256.29 Q520.1 265.3 493.13 273.54 Z" fill="#77C674" fill-opacity="0.75"/>
<path d="M495.44 278.97 A28.2 28.2 0 0 1 493.13 273.54 Q520.1 265.3 497.29 248.72 L498.87 245.4 L502.08 243.61 Q520.1 265.3 495.44 278.97 Z" fill="#77C674" fill-opacity="0.75"/>
<text x="519.7" y="233.9" font-size="5.8" text-anchor="middle" font-weight="bold" fill="#1a1a1a" stroke="#1a1a1a" stroke-width="0.08">Sdc4</text>
<text x="494.7" y="241" font-size="5.8" text-anchor="middle" font-weight="bold" fill="#1a1a1a" stroke="#1a1a1a" stroke-width="0.08">Cd44</text>
<text x="541" y="243.4" font-size="5.8" text-anchor="start" font-weight="bold" fill="#1a1a1a" stroke="#1a1a1a" stroke-width="0.08">Cd44</text>
<text x="490.8" y="254.3" font-size="5.8" text-anchor="end" font-weight="bold" fill="#1a1a1a" stroke="#1a1a1a" stroke-width="0.08">Sdc4</text>
<text x="550.2" y="258.3" font-size="5.8" text-anchor="start" font-weight="bold" fill="#1a1a1a" stroke="#1a1a1a" stroke-width="0.08">Sdc4</text>
<text x="550.9" y="276.2" font-size="5.8" text-anchor="start" font-weight="bold" fill="#1a1a1a" stroke="#1a1a1a" stroke-width="0.08">Col1a1</text>
<text x="545.5" y="288" font-size="5.8" text-anchor="start" font-weight="bold" fill="#1a1a1a" stroke="#1a1a1a" stroke-width="0.08">Col6a1</text>
<text x="538" y="300.1" font-size="5.8" text-anchor="middle" font-weight="bold" fill="#1a1a1a" stroke="#1a1a1a" stroke-width="0.08">Col1a1</text>
<text x="499.4" y="299.4" font-size="5.8" text-anchor="middle" font-weight="bold" fill="#1a1a1a" stroke="#1a1a1a" stroke-width="0.08">Col4a3</text>
<text x="493" y="285.1" font-size="5.8" text-anchor="end" font-weight="bold" fill="#1a1a1a" stroke="#1a1a1a" stroke-width="0.08">Col4a4</text>
<text x="489.4" y="274.4" font-size="5.8" text-anchor="end" font-weight="bold" fill="#1a1a1a" stroke="#1a1a1a" stroke-width="0.08">Col4a6</text>
<text x="469.1" y="269.5" font-size="10.2" text-anchor="middle" font-weight="bold" fill="#000" stroke="#000" stroke-width="0.2" transform="rotate(-90 469.1 269.5)">Collagen</text>
<path d="M490.01 354.87 A30.2 30.2 0 0 1 505 331.35" stroke="#E0393E" stroke-width="1.05" fill="none"/>
<path d="M505.46 331.09 A30.2 30.2 0 0 1 535.2 331.35" stroke="#3B7DC4" stroke-width="1.05" fill="none"/>
<path d="M535.65 331.61 A30.2 30.2 0 0 1 550.19 354.87" stroke="#4FAF4A" stroke-width="1.05" fill="none"/>
<path d="M550.19 360.13 A30.2 30.2 0 0 1 490.01 360.13" stroke="#E0393E" stroke-width="1.05" fill="none"/>
<path d="M549.29 360.05 A29.3 29.3 0 0 1 534.75 382.87" stroke="#9AD49A" stroke-width="0.95" fill="none"/>
<path d="M534.3 383.13 A29.3 29.3 0 0 1 505.9 383.13" stroke="#8DB6DA" stroke-width="0.95" fill="none"/>
<path d="M505.45 382.87 A29.3 29.3 0 0 1 490.91 360.05" stroke="#E58A90" stroke-width="0.95" fill="none"/>
<defs><linearGradient id="bg7" gradientUnits="userSpaceOnUse" x1="0" y1="355.5" x2="0" y2="369.5"><stop offset="0" stop-color="#fff" stop-opacity="0"/><stop offset="1" stop-color="#fff" stop-opacity="1"/></linearGradient><mask id="bm7" maskUnits="userSpaceOnUse" x="0" y="0" width="685" height="527"><rect x="0" y="0" width="685" height="527" fill="url(#bg7)"/></mask></defs>
<path d="M548.05 360.44 A28.1 28.1 0 0 1 492.15 360.44 Z" fill="#D57077" mask="url(#bm7)"/>
<path d="M505.9 382.1 A28.4 28.4 0 0 1 491.81 359.98 Q520.1 357.5 491.81 355.02 L495.39 341.76 L505.9 332.9 Q520.1 357.5 505.9 382.1 Z" fill="#D57077"/>
<path d="M533.87 382.34 A28.4 28.4 0 0 1 506.33 382.34 Q520.1 357.5 506.33 332.66 L520.36 328.2 L534.3 332.9 Q520.1 357.5 533.87 382.34 Z" fill="#D57077"/>
<path d="M548.39 359.98 A28.4 28.4 0 0 1 534.3 382.1 Q520.1 357.5 534.73 333.16 L544.95 341.97 L548.39 355.02 Q520.1 357.5 548.39 359.98 Z" fill="#D57077"/>
<text x="493.6" y="340" font-size="5.8" text-anchor="end" font-weight="bold" fill="#1a1a1a" stroke="#1a1a1a" stroke-width="0.08">Sdc4</text>
<text x="521.5" y="325.8" font-size="5.8" text-anchor="middle" font-weight="bold" fill="#1a1a1a" stroke="#1a1a1a" stroke-width="0.08">Sdc4</text>
<text x="548" y="343.6" font-size="5.8" text-anchor="start" font-weight="bold" fill="#1a1a1a" stroke="#1a1a1a" stroke-width="0.08">Sdc4</text>
<text x="520.1" y="395.9" font-size="5.8" text-anchor="middle" font-weight="bold" fill="#1a1a1a" stroke="#1a1a1a" stroke-width="0.08">Tnc</text>
<text x="469.1" y="363.6" font-size="10.2" text-anchor="middle" font-weight="bold" fill="#000" stroke="#000" stroke-width="0.2" transform="rotate(-90 469.1 363.6)">Tenascin</text>
<path d="M489.77 446.95 A30.45 30.45 0 0 1 492.5 436.73" stroke="#E0393E" stroke-width="1.05" fill="none"/>
<path d="M492.73 436.25 A30.45 30.45 0 0 1 498.57 428.07" stroke="#E0393E" stroke-width="1.05" fill="none"/>
<path d="M498.95 427.7 A30.45 30.45 0 0 1 506.28 422.47" stroke="#E0393E" stroke-width="1.05" fill="none"/>
<path d="M507.23 422 A30.45 30.45 0 0 1 530.51 420.99" stroke="#3B7DC4" stroke-width="1.05" fill="none"/>
<path d="M531.01 421.17 A30.45 30.45 0 0 1 545.34 432.57" stroke="#3B7DC4" stroke-width="1.05" fill="none"/>
<path d="M545.92 433.46 A30.45 30.45 0 0 1 548.89 439.69" stroke="#4FAF4A" stroke-width="1.05" fill="none"/>
<path d="M549.06 440.19 A30.45 30.45 0 0 1 550.43 446.95" stroke="#4FAF4A" stroke-width="1.05" fill="none"/>
<path d="M550.43 452.25 A30.45 30.45 0 0 1 489.77 452.25" stroke="#4FAF4A" stroke-width="1.05" fill="none"/>
<path d="M549.54 452.18 A29.55 29.55 0 0 1 542.74 468.59" stroke="#9AD49A" stroke-width="0.95" fill="none"/>
<path d="M542.4 468.99 A29.55 29.55 0 0 1 509.99 477.37" stroke="#8DB6DA" stroke-width="0.95" fill="none"/>
<path d="M509.51 477.19 A29.55 29.55 0 0 1 490.66 452.18" stroke="#E58A90" stroke-width="0.95" fill="none"/>
<defs><linearGradient id="bg8" gradientUnits="userSpaceOnUse" x1="0" y1="447.6" x2="0" y2="461.6"><stop offset="0" stop-color="#fff" stop-opacity="0"/><stop offset="1" stop-color="#fff" stop-opacity="1"/></linearGradient><mask id="bm8" maskUnits="userSpaceOnUse" x="0" y="0" width="685" height="527"><rect x="0" y="0" width="685" height="527" fill="url(#bg8)"/></mask></defs>
<path d="M548.29 452.56 A28.35 28.35 0 0 1 491.91 452.56 Z" fill="#93D093" mask="url(#bm8)"/>
<path d="M494.35 462.15 A28.65 28.65 0 0 1 491.56 452.1 Q520.1 449.6 491.56 447.1 L491.56 441.95 L494.13 437.49 Q520.1 449.6 494.35 462.15 Z" fill="#93D093"/>
<path d="M500.17 470.18 A28.65 28.65 0 0 1 494.35 462.15 Q520.1 449.6 494.35 437.04 L496.04 432.44 L499.84 429.34 Q520.1 449.6 500.17 470.18 Z" fill="#93D093"/>
<path d="M507.44 475.3 A28.65 28.65 0 0 1 500.17 470.18 Q520.1 449.6 500.2 428.99 L502.94 425.54 L507.09 424.07 Q520.1 449.6 507.44 475.3 Z" fill="#93D093"/>
<path d="M530.36 476.35 A28.65 28.65 0 0 1 507.44 475.3 Q520.1 449.6 507.99 423.63 L518.81 420.08 L529.9 422.68 Q520.1 449.6 530.36 476.35 Z" fill="#93D093"/>
<path d="M544.32 464.9 A28.65 28.65 0 0 1 530.36 476.35 Q520.1 449.6 530.37 422.85 L538.5 426.47 L543.85 433.58 Q520.1 449.6 544.32 464.9 Z" fill="#93D093"/>
<path d="M547.25 458.76 A28.65 28.65 0 0 1 544.32 464.9 Q520.1 449.6 544.4 434.42 L546.77 436.88 L547.19 440.27 Q520.1 449.6 547.25 458.76 Z" fill="#93D093"/>
<path d="M548.64 452.1 A28.65 28.65 0 0 1 547.25 458.76 Q520.1 449.6 547.35 440.75 L549.06 443.71 L548.64 447.1 Q520.1 449.6 548.64 452.1 Z" fill="#93D093"/>
<text x="487.9" y="409.4" font-size="5.8" text-anchor="start" font-weight="bold" fill="#1a1a1a" stroke="#1a1a1a" stroke-width="0.08">ITGA6_</text>
<text x="487.9" y="415" font-size="5.8" text-anchor="start" font-weight="bold" fill="#1a1a1a" stroke="#1a1a1a" stroke-width="0.08">ITGB1</text>
<text x="476.8" y="421.3" font-size="5.8" text-anchor="start" font-weight="bold" fill="#1a1a1a" stroke="#1a1a1a" stroke-width="0.08">ITGA7_</text>
<text x="476.8" y="427.7" font-size="5.8" text-anchor="start" font-weight="bold" fill="#1a1a1a" stroke="#1a1a1a" stroke-width="0.08">ITGB1</text>
<text x="491.3" y="436.2" font-size="5.8" text-anchor="end" font-weight="bold" fill="#1a1a1a" stroke="#1a1a1a" stroke-width="0.08">Cd44</text>
<text x="520" y="417.1" font-size="5.8" text-anchor="middle" font-weight="bold" fill="#1a1a1a" stroke="#1a1a1a" stroke-width="0.08">Cd44</text>
<text x="539.1" y="417.4" font-size="5.8" text-anchor="start" font-weight="bold" fill="#1a1a1a" stroke="#1a1a1a" stroke-width="0.08">ITGA7_</text>
<text x="539.1" y="423.6" font-size="5.8" text-anchor="start" font-weight="bold" fill="#1a1a1a" stroke="#1a1a1a" stroke-width="0.08">ITGB1</text>
<text x="548.5" y="429.9" font-size="5.8" text-anchor="start" font-weight="bold" fill="#1a1a1a" stroke="#1a1a1a" stroke-width="0.08">ITGA6_</text>
<text x="548.5" y="435.9" font-size="5.8" text-anchor="start" font-weight="bold" fill="#1a1a1a" stroke="#1a1a1a" stroke-width="0.08">ITGB1</text>
<text x="552" y="443" font-size="5.8" text-anchor="start" font-weight="bold" fill="#1a1a1a" stroke="#1a1a1a" stroke-width="0.08">ITGA6_</text>
<text x="552" y="449.2" font-size="5.8" text-anchor="start" font-weight="bold" fill="#1a1a1a" stroke="#1a1a1a" stroke-width="0.08">ITGB1</text>
<text x="520.8" y="486.7" font-size="5.8" text-anchor="middle" font-weight="bold" fill="#1a1a1a" stroke="#1a1a1a" stroke-width="0.08">Lama4</text>
<text x="469.1" y="456.7" font-size="10.2" text-anchor="middle" font-weight="bold" fill="#000" stroke="#000" stroke-width="0.2" transform="rotate(-90 469.1 456.7)">Laminin</text>
<path d="M609.5 80.5 A31.4 31.4 0 0 1 672.3 80.5" stroke="#4FAF4A" stroke-width="1.05" fill="none"/>
<path d="M672.3 80.5 A31.4 31.4 0 0 1 609.5 80.5" stroke="#3B7DC4" stroke-width="1.05" fill="none"/>
<path d="M610.4 79.97 A30.5 30.5 0 0 1 671.4 79.97" stroke="#8DB6DA" stroke-width="0.8" fill="none"/>
<path d="M671.4 81.03 A30.5 30.5 0 0 1 610.4 81.03" stroke="#9AD49A" stroke-width="0.8" fill="none"/>
<path d="M611.3 80.5 A29.6 29.6 0 0 1 670.5 80.5 Z" fill="#93D093"/>
<g transform="translate(0 -0.2)">
<path d="M644.5 52 C645.3 63 650 72 657.4 75.4 C662 77.4 666.5 78.2 670.2 78.3 L670.2 80.7 C662 80.6 653 78.6 647.6 72.3 C645.3 68 644.7 60 644.5 52 Z" fill="#E8EFF1"/>
<path d="M611.3 80.7 L626.5 80.9 Q631 89 617.9 99.33 A29.6 29.6 0 0 1 611.3 80.7 Z" fill="#83AFCF"/>
<path d="M649 80.9 L670.5 80.7 A29.6 29.6 0 0 1 663.9 99.33 Q654 91 649 80.9 Z" fill="#83AFCF"/>
<path d="M626.5 80.9 L649 80.9 Q654 91 663.9 99.33 Q640.9 82 617.9 99.33 Q631 89 626.5 80.9 Z" fill="#6DAE85"/>
<path d="M617.9 99.33 Q640.9 82 663.9 99.33 L640.9 111.1 Z" fill="#93D093"/>
<line x1="611.3" y1="80.9" x2="670.5" y2="80.9" stroke="#fff" stroke-width="0.4" stroke-opacity="0.6"/>
</g>
<text x="642.8" y="47.9" font-size="5.8" text-anchor="middle" font-weight="bold" fill="#1a1a1a" stroke="#1a1a1a" stroke-width="0.08">F11r</text>
<text x="642.8" y="118" font-size="5.8" text-anchor="middle" font-weight="bold" fill="#1a1a1a" stroke="#1a1a1a" stroke-width="0.08">F11r</text>
<text x="587" y="81.3" font-size="10.2" text-anchor="middle" font-weight="bold" fill="#000" stroke="#000" stroke-width="0.2" transform="rotate(-90 587 81.3)">Jam</text>
<path d="M671.5 172.9 A30.8 30.8 0 0 1 609.9 172.9 A30.8 30.8 0 0 1 671.5 172.9" stroke="#4FAF4A" stroke-width="1.05" fill="none"/>
<path d="M670.6 173.42 A29.9 29.9 0 0 1 610.8 173.42" stroke="#9AD49A" stroke-width="0.95" fill="none"/>
<path d="M669.7 173.2 A29 29 0 0 1 611.7 172.9 L611.7 172.9 L640.54 143 L669.7 172.6 Q640.7 172.9 669.7 173.2 Z" fill="#93D093" stroke="#fff" stroke-width="0.35" stroke-opacity="0.6"/>
<text x="607.4" y="177.2" font-size="5.8" text-anchor="end" font-weight="bold" fill="#1a1a1a" stroke="#1a1a1a" stroke-width="0.08">Mpzl1</text>
<text x="587" y="173.5" font-size="10.2" text-anchor="middle" font-weight="bold" fill="#000" stroke="#000" stroke-width="0.2" transform="rotate(-90 587 173.5)">Mpz</text>
<path d="M608.97 263.12 A31.85 31.85 0 0 1 672.43 263.12" stroke="#4FAF4A" stroke-width="1.05" fill="none"/>
<path d="M672.43 268.68 A31.85 31.85 0 0 1 647.86 296.93" stroke="#E0393E" stroke-width="1.05" fill="none"/>
<path d="M646.78 297.16 A31.85 31.85 0 0 1 608.97 268.68" stroke="#3B7DC4" stroke-width="1.05" fill="none"/>
<path d="M646.61 296.28 A30.95 30.95 0 0 1 609.87 268.6" stroke="#9AD49A" stroke-width="0.95" fill="none"/>
<path d="M646.69 295.35 A30.05 30.05 0 0 1 610.76 268.52 Q640.7 265.9 610.76 263.28 L622.51 240.86 L647.46 236.62 Q640.7 265.9 646.69 295.35 Z" fill="#619AC4" fill-opacity="0.75"/>
<text x="642.9" y="231.1" font-size="5.8" text-anchor="middle" font-weight="bold" fill="#1a1a1a" stroke="#1a1a1a" stroke-width="0.08">Ephb4</text>
<text x="609.6" y="295.6" font-size="5.8" text-anchor="middle" font-weight="bold" fill="#1a1a1a" stroke="#1a1a1a" stroke-width="0.08">Efnb2</text>
<text x="674.7" y="291.8" font-size="5.8" text-anchor="middle" font-weight="bold" fill="#1a1a1a" stroke="#1a1a1a" stroke-width="0.08">Efnb2</text>
<text x="587" y="267.2" font-size="10.2" text-anchor="middle" font-weight="bold" fill="#000" stroke="#000" stroke-width="0.2" transform="rotate(-90 587 267.2)">Ephb</text>
<path d="M671.6 358.2 A30.9 30.9 0 0 1 609.8 358.2 A30.9 30.9 0 0 1 671.6 358.2" stroke="#4FAF4A" stroke-width="1.05" fill="none"/>
<path d="M670.7 358.72 A30 30 0 0 1 610.7 358.72" stroke="#9AD49A" stroke-width="0.95" fill="none"/>
<path d="M669.8 358.5 A29.1 29.1 0 0 1 611.6 358.2 L611.6 358.2 L640.54 328.2 L669.8 357.9 Q640.7 358.2 669.8 358.5 Z" fill="#93D093" stroke="#fff" stroke-width="0.35" stroke-opacity="0.6"/>
<text x="607.4" y="360.8" font-size="5.8" text-anchor="end" font-weight="bold" fill="#1a1a1a" stroke="#1a1a1a" stroke-width="0.08">Cadm1</text>
<text x="587" y="359.4" font-size="10.2" text-anchor="middle" font-weight="bold" fill="#000" stroke="#000" stroke-width="0.2" transform="rotate(-90 587 359.4)">Cadm</text>
<path d="M610.02 446.87 A30.8 30.8 0 0 1 671.38 446.87" stroke="#4FAF4A" stroke-width="1.05" fill="none"/>
<path d="M671.38 452.23 A30.8 30.8 0 0 1 610.02 452.23" stroke="#4FAF4A" stroke-width="1.05" fill="none"/>
<path d="M670.49 452.16 A29.9 29.9 0 0 1 610.91 452.16" stroke="#9AD49A" stroke-width="0.95" fill="none"/>
<path d="M669.59 452.08 A29 29 0 0 1 611.81 452.08 Q640.7 449.55 611.81 447.02 L640.7 419.65 L669.59 447.02 Q640.7 449.55 669.59 452.08 Z" fill="#93D093" stroke="#fff" stroke-width="0.35" stroke-opacity="0.6"/>
<text x="641.2" y="416.8" font-size="5.8" text-anchor="middle" font-weight="bold" fill="#1a1a1a" stroke="#1a1a1a" stroke-width="0.08">Dsg2</text>
<text x="641.2" y="488.4" font-size="5.8" text-anchor="middle" font-weight="bold" fill="#1a1a1a" stroke="#1a1a1a" stroke-width="0.08">Dsc2</text>
<text x="587" y="455.8" font-size="10.2" text-anchor="middle" font-weight="bold" fill="#000" stroke="#000" stroke-width="0.2" transform="rotate(-90 587 455.8)">Desmosome</text>
<text x="19.5" y="507.6" font-size="10" text-anchor="start" font-weight="bold" fill="#000" stroke="#000" stroke-width="0.2">Cell Type</text>
<rect x="19.4" y="514.2" width="8.8" height="8.6" fill="#C9A84A" stroke="#D09A40" stroke-width="0.9"/>
<text x="31" y="522.3" font-size="10" text-anchor="start" font-weight="bold" fill="#000" stroke="#000" stroke-width="0.2">Fus Hyb</text>
<rect x="83.2" y="514.2" width="8.8" height="8.6" fill="#E06868" stroke="#9E4FA0" stroke-width="0.9"/>
<text x="94.8" y="522.3" font-size="10" text-anchor="start" font-weight="bold" fill="#000" stroke="#000" stroke-width="0.2">mHL1</text>
<rect x="146.8" y="514.2" width="8.8" height="8.6" fill="#7BC87A" stroke="#6CC36A" stroke-width="0.9"/>
<text x="158.4" y="522.3" font-size="10" text-anchor="start" font-weight="bold" fill="#000" stroke="#000" stroke-width="0.2">mMSC</text>
<text x="491" y="507.5" font-size="10" text-anchor="start" font-weight="bold" fill="#000" stroke="#000" stroke-width="0.2">Cell Type</text>
<rect x="489.7" y="515.1" width="9" height="8.4" fill="#DB6070"/>
<text x="501.7" y="523" font-size="10" text-anchor="start" font-weight="bold" fill="#000" stroke="#000" stroke-width="0.2">Cluster 0</text>
<rect x="553.4" y="515.1" width="9" height="8.4" fill="#5E95C5"/>
<text x="565.4" y="523" font-size="10" text-anchor="start" font-weight="bold" fill="#000" stroke="#000" stroke-width="0.2">Cluster 1</text>
<rect x="617.2" y="515.1" width="9" height="8.4" fill="#6FBF6C"/>
<text x="629.2" y="523" font-size="10" text-anchor="start" font-weight="bold" fill="#000" stroke="#000" stroke-width="0.2">Cluster 2</text></svg>
</body></html>
